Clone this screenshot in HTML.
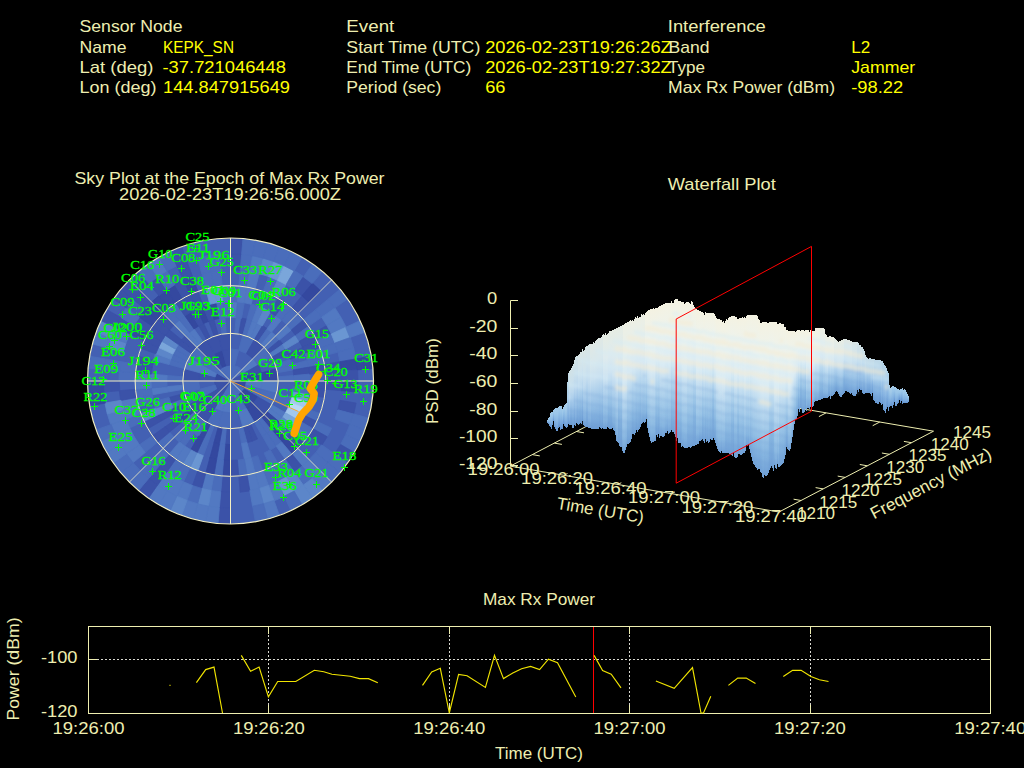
<!DOCTYPE html><html><head><meta charset="utf-8"><style>html,body{margin:0;padding:0;background:#000;overflow:hidden}svg{display:block}</style></head><body>
<svg width="1024" height="768" viewBox="0 0 1024 768">
<rect width="1024" height="768" fill="#000"/>
<text x="79.5" y="32.3" fill="#eeeeb0" font-size="17" font-family="'Liberation Sans', sans-serif" text-anchor="start" textLength="103" lengthAdjust="spacingAndGlyphs" >Sensor Node</text>
<text x="79.5" y="52.8" fill="#eeeeb0" font-size="17" font-family="'Liberation Sans', sans-serif" text-anchor="start" textLength="47" lengthAdjust="spacingAndGlyphs" >Name</text>
<text x="79.5" y="72.8" fill="#eeeeb0" font-size="17" font-family="'Liberation Sans', sans-serif" text-anchor="start" textLength="74" lengthAdjust="spacingAndGlyphs" >Lat (deg)</text>
<text x="79.5" y="92.9" fill="#eeeeb0" font-size="17" font-family="'Liberation Sans', sans-serif" text-anchor="start" textLength="77" lengthAdjust="spacingAndGlyphs" >Lon (deg)</text>
<text x="163.0" y="52.8" fill="#ffff00" font-size="17" font-family="'Liberation Sans', sans-serif" text-anchor="start" textLength="71" lengthAdjust="spacingAndGlyphs" >KEPK_SN</text>
<text x="162.5" y="72.8" fill="#ffff00" font-size="17" font-family="'Liberation Sans', sans-serif" text-anchor="start" textLength="123.5" lengthAdjust="spacingAndGlyphs" >-37.721046448</text>
<text x="163.0" y="92.9" fill="#ffff00" font-size="17" font-family="'Liberation Sans', sans-serif" text-anchor="start" textLength="127" lengthAdjust="spacingAndGlyphs" >144.847915649</text>
<text x="346.3" y="32.3" fill="#eeeeb0" font-size="17" font-family="'Liberation Sans', sans-serif" text-anchor="start" textLength="48" lengthAdjust="spacingAndGlyphs" >Event</text>
<text x="346.3" y="52.8" fill="#eeeeb0" font-size="17" font-family="'Liberation Sans', sans-serif" text-anchor="start" textLength="134" lengthAdjust="spacingAndGlyphs" >Start Time (UTC)</text>
<text x="346.3" y="72.8" fill="#eeeeb0" font-size="17" font-family="'Liberation Sans', sans-serif" text-anchor="start" textLength="125" lengthAdjust="spacingAndGlyphs" >End Time (UTC)</text>
<text x="346.3" y="92.9" fill="#eeeeb0" font-size="17" font-family="'Liberation Sans', sans-serif" text-anchor="start" textLength="95" lengthAdjust="spacingAndGlyphs" >Period (sec)</text>
<text x="485.2" y="52.8" fill="#ffff00" font-size="17" font-family="'Liberation Sans', sans-serif" text-anchor="start" textLength="186.5" lengthAdjust="spacingAndGlyphs" >2026-02-23T19:26:26Z</text>
<text x="485.2" y="72.8" fill="#ffff00" font-size="17" font-family="'Liberation Sans', sans-serif" text-anchor="start" textLength="186.5" lengthAdjust="spacingAndGlyphs" >2026-02-23T19:27:32Z</text>
<text x="485.2" y="92.9" fill="#ffff00" font-size="17" font-family="'Liberation Sans', sans-serif" text-anchor="start" textLength="20.3" lengthAdjust="spacingAndGlyphs" >66</text>
<text x="667.8" y="32.3" fill="#eeeeb0" font-size="17" font-family="'Liberation Sans', sans-serif" text-anchor="start" textLength="98" lengthAdjust="spacingAndGlyphs" >Interference</text>
<text x="668.6" y="52.8" fill="#eeeeb0" font-size="17" font-family="'Liberation Sans', sans-serif" text-anchor="start" textLength="41" lengthAdjust="spacingAndGlyphs" >Band</text>
<text x="668.0" y="72.8" fill="#eeeeb0" font-size="17" font-family="'Liberation Sans', sans-serif" text-anchor="start" textLength="37" lengthAdjust="spacingAndGlyphs" >Type</text>
<text x="668.0" y="92.9" fill="#eeeeb0" font-size="17" font-family="'Liberation Sans', sans-serif" text-anchor="start" textLength="167" lengthAdjust="spacingAndGlyphs" >Max Rx Power (dBm)</text>
<text x="851.2" y="52.8" fill="#ffff00" font-size="17" font-family="'Liberation Sans', sans-serif" text-anchor="start" textLength="19" lengthAdjust="spacingAndGlyphs" >L2</text>
<text x="851.2" y="72.8" fill="#ffff00" font-size="17" font-family="'Liberation Sans', sans-serif" text-anchor="start" textLength="64" lengthAdjust="spacingAndGlyphs" >Jammer</text>
<text x="851.2" y="92.9" fill="#ffff00" font-size="17" font-family="'Liberation Sans', sans-serif" text-anchor="start" textLength="52" lengthAdjust="spacingAndGlyphs" >-98.22</text>
<text x="229.5" y="183.8" fill="#eeeeb0" font-size="17" font-family="'Liberation Sans', sans-serif" text-anchor="middle" textLength="310" lengthAdjust="spacingAndGlyphs" >Sky Plot at the Epoch of Max Rx Power</text>
<text x="230.0" y="199.8" fill="#eeeeb0" font-size="17" font-family="'Liberation Sans', sans-serif" text-anchor="middle" textLength="222" lengthAdjust="spacingAndGlyphs" >2026-02-23T19:26:56.000Z</text>
<clipPath id="dk"><circle cx="230.5" cy="381.0" r="143.0"/></clipPath>
<g clip-path="url(#dk)">
<circle cx="230.5" cy="381.0" r="143.0" fill="#4360b3"/>
<path d="M230.5,381.0 L230.5,364.7 L238.6,366.9Z" fill="#4a6dbb" stroke="#4a6dbb" stroke-width="0.8"/>
<path d="M230.5,381.0 L238.6,366.9 L244.6,372.9Z" fill="#4a6dbb" stroke="#4a6dbb" stroke-width="0.8"/>
<path d="M230.5,381.0 L244.6,372.9 L246.8,381.0Z" fill="#3b52a8" stroke="#3b52a8" stroke-width="0.8"/>
<path d="M230.5,381.0 L246.8,381.0 L244.6,389.1Z" fill="#34489f" stroke="#34489f" stroke-width="0.8"/>
<path d="M230.5,381.0 L244.6,389.1 L238.6,395.1Z" fill="#4a6dbb" stroke="#4a6dbb" stroke-width="0.8"/>
<path d="M230.5,381.0 L238.6,395.1 L230.5,397.3Z" fill="#4a6dbb" stroke="#4a6dbb" stroke-width="0.8"/>
<path d="M230.5,381.0 L230.5,397.3 L222.4,395.1Z" fill="#4a6dbb" stroke="#4a6dbb" stroke-width="0.8"/>
<path d="M230.5,381.0 L222.4,395.1 L216.4,389.1Z" fill="#3b52a8" stroke="#3b52a8" stroke-width="0.8"/>
<path d="M230.5,381.0 L216.4,389.1 L214.2,381.0Z" fill="#3b52a8" stroke="#3b52a8" stroke-width="0.8"/>
<path d="M230.5,381.0 L214.2,381.0 L216.4,372.9Z" fill="#34489f" stroke="#34489f" stroke-width="0.8"/>
<path d="M230.5,381.0 L216.4,372.9 L222.4,366.9Z" fill="#4a6dbb" stroke="#4a6dbb" stroke-width="0.8"/>
<path d="M230.5,381.0 L222.4,366.9 L230.5,364.7Z" fill="#4a6dbb" stroke="#4a6dbb" stroke-width="0.8"/>
<path d="M230.5,365.1 L230.5,348.8 L238.8,349.9 L234.6,365.7Z" fill="#4a6dbb" stroke="#4a6dbb" stroke-width="0.8"/>
<path d="M241.7,369.8 L253.3,358.2 L258.4,364.9 L244.3,373.1Z" fill="#5279c2" stroke="#5279c2" stroke-width="0.8"/>
<path d="M244.3,373.1 L258.4,364.9 L261.6,372.7 L245.8,376.9Z" fill="#3b52a8" stroke="#3b52a8" stroke-width="0.8"/>
<path d="M245.8,376.9 L261.6,372.7 L262.7,381.0 L246.4,381.0Z" fill="#34489f" stroke="#34489f" stroke-width="0.8"/>
<path d="M246.4,381.0 L262.7,381.0 L261.6,389.3 L245.8,385.1Z" fill="#5279c2" stroke="#5279c2" stroke-width="0.8"/>
<path d="M245.8,385.1 L261.6,389.3 L258.4,397.1 L244.3,388.9Z" fill="#4a6dbb" stroke="#4a6dbb" stroke-width="0.8"/>
<path d="M244.3,388.9 L258.4,397.1 L253.3,403.8 L241.7,392.2Z" fill="#34489f" stroke="#34489f" stroke-width="0.8"/>
<path d="M241.7,392.2 L253.3,403.8 L246.6,408.9 L238.4,394.8Z" fill="#34489f" stroke="#34489f" stroke-width="0.8"/>
<path d="M238.4,394.8 L246.6,408.9 L238.8,412.1 L234.6,396.3Z" fill="#4a6dbb" stroke="#4a6dbb" stroke-width="0.8"/>
<path d="M230.5,396.9 L230.5,413.2 L222.2,412.1 L226.4,396.3Z" fill="#5279c2" stroke="#5279c2" stroke-width="0.8"/>
<path d="M226.4,396.3 L222.2,412.1 L214.4,408.9 L222.6,394.8Z" fill="#5279c2" stroke="#5279c2" stroke-width="0.8"/>
<path d="M222.6,394.8 L214.4,408.9 L207.7,403.8 L219.3,392.2Z" fill="#3b52a8" stroke="#3b52a8" stroke-width="0.8"/>
<path d="M219.3,392.2 L207.7,403.8 L202.6,397.1 L216.7,388.9Z" fill="#3b52a8" stroke="#3b52a8" stroke-width="0.8"/>
<path d="M216.7,388.9 L202.6,397.1 L199.4,389.3 L215.2,385.1Z" fill="#4a6dbb" stroke="#4a6dbb" stroke-width="0.8"/>
<path d="M214.6,381.0 L198.3,381.0 L199.4,372.7 L215.2,376.9Z" fill="#3b52a8" stroke="#3b52a8" stroke-width="0.8"/>
<path d="M215.2,376.9 L199.4,372.7 L202.6,364.9 L216.7,373.1Z" fill="#5279c2" stroke="#5279c2" stroke-width="0.8"/>
<path d="M216.7,373.1 L202.6,364.9 L207.7,358.2 L219.3,369.8Z" fill="#4a6dbb" stroke="#4a6dbb" stroke-width="0.8"/>
<path d="M219.3,369.8 L207.7,358.2 L214.4,353.1 L222.6,367.2Z" fill="#3b52a8" stroke="#3b52a8" stroke-width="0.8"/>
<path d="M222.6,367.2 L214.4,353.1 L222.2,349.9 L226.4,365.7Z" fill="#34489f" stroke="#34489f" stroke-width="0.8"/>
<path d="M226.4,365.7 L222.2,349.9 L230.5,348.8 L230.5,365.1Z" fill="#3b52a8" stroke="#3b52a8" stroke-width="0.8"/>
<path d="M238.7,350.3 L242.9,334.6 L254.5,339.4 L246.4,353.5Z" fill="#4a6dbb" stroke="#4a6dbb" stroke-width="0.8"/>
<path d="M246.4,353.5 L254.5,339.4 L264.5,347.0 L253.0,358.5Z" fill="#3b52a8" stroke="#3b52a8" stroke-width="0.8"/>
<path d="M253.0,358.5 L264.5,347.0 L272.1,357.0 L258.0,365.1Z" fill="#4a6dbb" stroke="#4a6dbb" stroke-width="0.8"/>
<path d="M261.2,372.8 L276.9,368.6 L278.6,381.0 L262.3,381.0Z" fill="#34489f" stroke="#34489f" stroke-width="0.8"/>
<path d="M262.3,381.0 L278.6,381.0 L276.9,393.4 L261.2,389.2Z" fill="#5279c2" stroke="#5279c2" stroke-width="0.8"/>
<path d="M261.2,389.2 L276.9,393.4 L272.1,405.0 L258.0,396.9Z" fill="#4a6dbb" stroke="#4a6dbb" stroke-width="0.8"/>
<path d="M258.0,396.9 L272.1,405.0 L264.5,415.0 L253.0,403.5Z" fill="#3b52a8" stroke="#3b52a8" stroke-width="0.8"/>
<path d="M253.0,403.5 L264.5,415.0 L254.5,422.6 L246.4,408.5Z" fill="#34489f" stroke="#34489f" stroke-width="0.8"/>
<path d="M246.4,408.5 L254.5,422.6 L242.9,427.4 L238.7,411.7Z" fill="#5279c2" stroke="#5279c2" stroke-width="0.8"/>
<path d="M230.5,412.8 L230.5,429.1 L218.1,427.4 L222.3,411.7Z" fill="#4a6dbb" stroke="#4a6dbb" stroke-width="0.8"/>
<path d="M222.3,411.7 L218.1,427.4 L206.5,422.6 L214.6,408.5Z" fill="#4a6dbb" stroke="#4a6dbb" stroke-width="0.8"/>
<path d="M214.6,408.5 L206.5,422.6 L196.5,415.0 L208.0,403.5Z" fill="#3b52a8" stroke="#3b52a8" stroke-width="0.8"/>
<path d="M208.0,403.5 L196.5,415.0 L188.9,405.0 L203.0,396.9Z" fill="#3b52a8" stroke="#3b52a8" stroke-width="0.8"/>
<path d="M199.8,389.2 L184.1,393.4 L182.4,381.0 L198.7,381.0Z" fill="#4a6dbb" stroke="#4a6dbb" stroke-width="0.8"/>
<path d="M198.7,381.0 L182.4,381.0 L184.1,368.6 L199.8,372.8Z" fill="#3b52a8" stroke="#3b52a8" stroke-width="0.8"/>
<path d="M199.8,372.8 L184.1,368.6 L188.9,357.0 L203.0,365.1Z" fill="#5279c2" stroke="#5279c2" stroke-width="0.8"/>
<path d="M203.0,365.1 L188.9,357.0 L196.5,347.0 L208.0,358.5Z" fill="#4a6dbb" stroke="#4a6dbb" stroke-width="0.8"/>
<path d="M208.0,358.5 L196.5,347.0 L206.5,339.4 L214.6,353.5Z" fill="#3b52a8" stroke="#3b52a8" stroke-width="0.8"/>
<path d="M214.6,353.5 L206.5,339.4 L218.1,334.6 L222.3,350.3Z" fill="#3b52a8" stroke="#3b52a8" stroke-width="0.8"/>
<path d="M222.3,350.3 L218.1,334.6 L230.5,332.9 L230.5,349.2Z" fill="#3b52a8" stroke="#3b52a8" stroke-width="0.8"/>
<path d="M234.7,333.5 L236.1,317.3 L241.6,318.0 L238.8,334.1Z" fill="#4a6dbb" stroke="#4a6dbb" stroke-width="0.8"/>
<path d="M238.8,334.1 L241.6,318.0 L247.1,319.2 L242.8,335.0Z" fill="#3b52a8" stroke="#3b52a8" stroke-width="0.8"/>
<path d="M242.8,335.0 L247.1,319.2 L252.4,320.9 L246.8,336.2Z" fill="#4a6dbb" stroke="#4a6dbb" stroke-width="0.8"/>
<path d="M246.8,336.2 L252.4,320.9 L257.5,323.0 L250.6,337.8Z" fill="#5279c2" stroke="#5279c2" stroke-width="0.8"/>
<path d="M250.6,337.8 L257.5,323.0 L262.5,325.6 L254.3,339.7Z" fill="#5279c2" stroke="#5279c2" stroke-width="0.8"/>
<path d="M254.3,339.7 L262.5,325.6 L267.2,328.6 L257.8,342.0Z" fill="#3b52a8" stroke="#3b52a8" stroke-width="0.8"/>
<path d="M257.8,342.0 L267.2,328.6 L271.6,332.0 L261.1,344.5Z" fill="#4a6dbb" stroke="#4a6dbb" stroke-width="0.8"/>
<path d="M261.1,344.5 L271.6,332.0 L275.7,335.8 L264.2,347.3Z" fill="#5279c2" stroke="#5279c2" stroke-width="0.8"/>
<path d="M264.2,347.3 L275.7,335.8 L279.5,339.9 L267.0,350.4Z" fill="#4a6dbb" stroke="#4a6dbb" stroke-width="0.8"/>
<path d="M267.0,350.4 L279.5,339.9 L282.9,344.3 L269.5,353.7Z" fill="#3b52a8" stroke="#3b52a8" stroke-width="0.8"/>
<path d="M269.5,353.7 L282.9,344.3 L285.9,349.0 L271.8,357.2Z" fill="#5279c2" stroke="#5279c2" stroke-width="0.8"/>
<path d="M271.8,357.2 L285.9,349.0 L288.5,354.0 L273.7,360.9Z" fill="#3b52a8" stroke="#3b52a8" stroke-width="0.8"/>
<path d="M275.3,364.7 L290.6,359.1 L292.3,364.4 L276.5,368.7Z" fill="#4a6dbb" stroke="#4a6dbb" stroke-width="0.8"/>
<path d="M276.5,368.7 L292.3,364.4 L293.5,369.9 L277.4,372.7Z" fill="#4a6dbb" stroke="#4a6dbb" stroke-width="0.8"/>
<path d="M278.0,376.8 L294.2,375.4 L294.5,381.0 L278.2,381.0Z" fill="#4a6dbb" stroke="#4a6dbb" stroke-width="0.8"/>
<path d="M276.5,393.3 L292.3,397.6 L290.6,402.9 L275.3,397.3Z" fill="#4a6dbb" stroke="#4a6dbb" stroke-width="0.8"/>
<path d="M275.3,397.3 L290.6,402.9 L288.5,408.0 L273.7,401.1Z" fill="#4a6dbb" stroke="#4a6dbb" stroke-width="0.8"/>
<path d="M271.8,404.8 L285.9,413.0 L282.9,417.7 L269.5,408.3Z" fill="#5279c2" stroke="#5279c2" stroke-width="0.8"/>
<path d="M269.5,408.3 L282.9,417.7 L279.5,422.1 L267.0,411.6Z" fill="#5279c2" stroke="#5279c2" stroke-width="0.8"/>
<path d="M267.0,411.6 L279.5,422.1 L275.7,426.2 L264.2,414.7Z" fill="#34489f" stroke="#34489f" stroke-width="0.8"/>
<path d="M264.2,414.7 L275.7,426.2 L271.6,430.0 L261.1,417.5Z" fill="#34489f" stroke="#34489f" stroke-width="0.8"/>
<path d="M261.1,417.5 L271.6,430.0 L267.2,433.4 L257.8,420.0Z" fill="#4a6dbb" stroke="#4a6dbb" stroke-width="0.8"/>
<path d="M257.8,420.0 L267.2,433.4 L262.5,436.4 L254.3,422.3Z" fill="#4a6dbb" stroke="#4a6dbb" stroke-width="0.8"/>
<path d="M250.6,424.2 L257.5,439.0 L252.4,441.1 L246.8,425.8Z" fill="#3b52a8" stroke="#3b52a8" stroke-width="0.8"/>
<path d="M246.8,425.8 L252.4,441.1 L247.1,442.8 L242.8,427.0Z" fill="#3b52a8" stroke="#3b52a8" stroke-width="0.8"/>
<path d="M242.8,427.0 L247.1,442.8 L241.6,444.0 L238.8,427.9Z" fill="#4a6dbb" stroke="#4a6dbb" stroke-width="0.8"/>
<path d="M230.5,428.7 L230.5,445.0 L224.9,444.7 L226.3,428.5Z" fill="#3b52a8" stroke="#3b52a8" stroke-width="0.8"/>
<path d="M226.3,428.5 L224.9,444.7 L219.4,444.0 L222.2,427.9Z" fill="#4a6dbb" stroke="#4a6dbb" stroke-width="0.8"/>
<path d="M222.2,427.9 L219.4,444.0 L213.9,442.8 L218.2,427.0Z" fill="#34489f" stroke="#34489f" stroke-width="0.8"/>
<path d="M214.2,425.8 L208.6,441.1 L203.5,439.0 L210.4,424.2Z" fill="#4a6dbb" stroke="#4a6dbb" stroke-width="0.8"/>
<path d="M210.4,424.2 L203.5,439.0 L198.5,436.4 L206.7,422.3Z" fill="#34489f" stroke="#34489f" stroke-width="0.8"/>
<path d="M206.7,422.3 L198.5,436.4 L193.8,433.4 L203.2,420.0Z" fill="#4a6dbb" stroke="#4a6dbb" stroke-width="0.8"/>
<path d="M203.2,420.0 L193.8,433.4 L189.4,430.0 L199.9,417.5Z" fill="#4a6dbb" stroke="#4a6dbb" stroke-width="0.8"/>
<path d="M196.8,414.7 L185.3,426.2 L181.5,422.1 L194.0,411.6Z" fill="#4a6dbb" stroke="#4a6dbb" stroke-width="0.8"/>
<path d="M194.0,411.6 L181.5,422.1 L178.1,417.7 L191.5,408.3Z" fill="#34489f" stroke="#34489f" stroke-width="0.8"/>
<path d="M189.2,404.8 L175.1,413.0 L172.5,408.0 L187.3,401.1Z" fill="#3b52a8" stroke="#3b52a8" stroke-width="0.8"/>
<path d="M187.3,401.1 L172.5,408.0 L170.4,402.9 L185.7,397.3Z" fill="#4a6dbb" stroke="#4a6dbb" stroke-width="0.8"/>
<path d="M185.7,397.3 L170.4,402.9 L168.7,397.6 L184.5,393.3Z" fill="#3b52a8" stroke="#3b52a8" stroke-width="0.8"/>
<path d="M183.6,389.3 L167.5,392.1 L166.8,386.6 L183.0,385.2Z" fill="#5279c2" stroke="#5279c2" stroke-width="0.8"/>
<path d="M182.8,381.0 L166.5,381.0 L166.8,375.4 L183.0,376.8Z" fill="#4a6dbb" stroke="#4a6dbb" stroke-width="0.8"/>
<path d="M184.5,368.7 L168.7,364.4 L170.4,359.1 L185.7,364.7Z" fill="#4a6dbb" stroke="#4a6dbb" stroke-width="0.8"/>
<path d="M185.7,364.7 L170.4,359.1 L172.5,354.0 L187.3,360.9Z" fill="#4a6dbb" stroke="#4a6dbb" stroke-width="0.8"/>
<path d="M187.3,360.9 L172.5,354.0 L175.1,349.0 L189.2,357.2Z" fill="#4a6dbb" stroke="#4a6dbb" stroke-width="0.8"/>
<path d="M189.2,357.2 L175.1,349.0 L178.1,344.3 L191.5,353.7Z" fill="#4a6dbb" stroke="#4a6dbb" stroke-width="0.8"/>
<path d="M191.5,353.7 L178.1,344.3 L181.5,339.9 L194.0,350.4Z" fill="#3b52a8" stroke="#3b52a8" stroke-width="0.8"/>
<path d="M194.0,350.4 L181.5,339.9 L185.3,335.8 L196.8,347.3Z" fill="#3b52a8" stroke="#3b52a8" stroke-width="0.8"/>
<path d="M196.8,347.3 L185.3,335.8 L189.4,332.0 L199.9,344.5Z" fill="#5279c2" stroke="#5279c2" stroke-width="0.8"/>
<path d="M199.9,344.5 L189.4,332.0 L193.8,328.6 L203.2,342.0Z" fill="#5279c2" stroke="#5279c2" stroke-width="0.8"/>
<path d="M206.7,339.7 L198.5,325.6 L203.5,323.0 L210.4,337.8Z" fill="#3b52a8" stroke="#3b52a8" stroke-width="0.8"/>
<path d="M214.2,336.2 L208.6,320.9 L213.9,319.2 L218.2,335.0Z" fill="#3b52a8" stroke="#3b52a8" stroke-width="0.8"/>
<path d="M222.2,334.1 L219.4,318.0 L224.9,317.3 L226.3,333.5Z" fill="#4a6dbb" stroke="#4a6dbb" stroke-width="0.8"/>
<path d="M230.5,317.4 L230.5,301.2 L237.5,301.5 L236.0,317.7Z" fill="#5279c2" stroke="#5279c2" stroke-width="0.8"/>
<path d="M236.0,317.7 L237.5,301.5 L244.4,302.4 L241.5,318.4Z" fill="#4a6dbb" stroke="#4a6dbb" stroke-width="0.8"/>
<path d="M246.9,319.6 L251.2,303.9 L257.8,306.0 L252.2,321.3Z" fill="#4a6dbb" stroke="#4a6dbb" stroke-width="0.8"/>
<path d="M252.2,321.3 L257.8,306.0 L264.2,308.6 L257.4,323.4Z" fill="#5279c2" stroke="#5279c2" stroke-width="0.8"/>
<path d="M257.4,323.4 L264.2,308.6 L270.4,311.9 L262.3,326.0Z" fill="#5c86c9" stroke="#5c86c9" stroke-width="0.8"/>
<path d="M267.0,328.9 L276.3,315.6 L281.8,319.8 L271.4,332.3Z" fill="#5279c2" stroke="#5279c2" stroke-width="0.8"/>
<path d="M275.4,336.1 L287.0,324.5 L291.7,329.7 L279.2,340.1Z" fill="#5279c2" stroke="#5279c2" stroke-width="0.8"/>
<path d="M282.6,344.5 L295.9,335.2 L299.6,341.1 L285.5,349.2Z" fill="#5c86c9" stroke="#5c86c9" stroke-width="0.8"/>
<path d="M288.1,354.1 L302.9,347.3 L305.5,353.7 L290.2,359.3Z" fill="#3b52a8" stroke="#3b52a8" stroke-width="0.8"/>
<path d="M291.9,364.6 L307.6,360.3 L309.1,367.1 L293.1,370.0Z" fill="#4a6dbb" stroke="#4a6dbb" stroke-width="0.8"/>
<path d="M293.1,370.0 L309.1,367.1 L310.0,374.0 L293.8,375.5Z" fill="#3b52a8" stroke="#3b52a8" stroke-width="0.8"/>
<path d="M293.8,375.5 L310.0,374.0 L310.3,381.0 L294.1,381.0Z" fill="#4a6dbb" stroke="#4a6dbb" stroke-width="0.8"/>
<path d="M293.8,386.5 L310.0,388.0 L309.1,394.9 L293.1,392.0Z" fill="#4a6dbb" stroke="#4a6dbb" stroke-width="0.8"/>
<path d="M293.1,392.0 L309.1,394.9 L307.6,401.7 L291.9,397.4Z" fill="#6a96d2" stroke="#6a96d2" stroke-width="0.8"/>
<path d="M291.9,397.4 L307.6,401.7 L305.5,408.3 L290.2,402.7Z" fill="#a2c8ec" stroke="#a2c8ec" stroke-width="0.8"/>
<path d="M290.2,402.7 L305.5,408.3 L302.9,414.7 L288.1,407.9Z" fill="#b8daf4" stroke="#b8daf4" stroke-width="0.8"/>
<path d="M288.1,407.9 L302.9,414.7 L299.6,420.9 L285.5,412.8Z" fill="#a2c8ec" stroke="#a2c8ec" stroke-width="0.8"/>
<path d="M285.5,412.8 L299.6,420.9 L295.9,426.8 L282.6,417.5Z" fill="#7aa6da" stroke="#7aa6da" stroke-width="0.8"/>
<path d="M282.6,417.5 L295.9,426.8 L291.7,432.3 L279.2,421.9Z" fill="#5c86c9" stroke="#5c86c9" stroke-width="0.8"/>
<path d="M275.4,425.9 L287.0,437.5 L281.8,442.2 L271.4,429.7Z" fill="#34489f" stroke="#34489f" stroke-width="0.8"/>
<path d="M271.4,429.7 L281.8,442.2 L276.3,446.4 L267.0,433.1Z" fill="#4a6dbb" stroke="#4a6dbb" stroke-width="0.8"/>
<path d="M267.0,433.1 L276.3,446.4 L270.4,450.1 L262.3,436.0Z" fill="#4a6dbb" stroke="#4a6dbb" stroke-width="0.8"/>
<path d="M246.9,442.4 L251.2,458.1 L244.4,459.6 L241.5,443.6Z" fill="#5279c2" stroke="#5279c2" stroke-width="0.8"/>
<path d="M230.5,444.6 L230.5,460.8 L223.5,460.5 L225.0,444.3Z" fill="#34489f" stroke="#34489f" stroke-width="0.8"/>
<path d="M225.0,444.3 L223.5,460.5 L216.6,459.6 L219.5,443.6Z" fill="#4a6dbb" stroke="#4a6dbb" stroke-width="0.8"/>
<path d="M219.5,443.6 L216.6,459.6 L209.8,458.1 L214.1,442.4Z" fill="#34489f" stroke="#34489f" stroke-width="0.8"/>
<path d="M208.8,440.7 L203.2,456.0 L196.8,453.4 L203.6,438.6Z" fill="#4a6dbb" stroke="#4a6dbb" stroke-width="0.8"/>
<path d="M203.6,438.6 L196.8,453.4 L190.6,450.1 L198.7,436.0Z" fill="#34489f" stroke="#34489f" stroke-width="0.8"/>
<path d="M194.0,433.1 L184.7,446.4 L179.2,442.2 L189.6,429.7Z" fill="#4a6dbb" stroke="#4a6dbb" stroke-width="0.8"/>
<path d="M189.6,429.7 L179.2,442.2 L174.0,437.5 L185.6,425.9Z" fill="#4a6dbb" stroke="#4a6dbb" stroke-width="0.8"/>
<path d="M181.8,421.9 L169.3,432.3 L165.1,426.8 L178.4,417.5Z" fill="#3b52a8" stroke="#3b52a8" stroke-width="0.8"/>
<path d="M175.5,412.8 L161.4,420.9 L158.1,414.7 L172.9,407.9Z" fill="#3b52a8" stroke="#3b52a8" stroke-width="0.8"/>
<path d="M172.9,407.9 L158.1,414.7 L155.5,408.3 L170.8,402.7Z" fill="#5c86c9" stroke="#5c86c9" stroke-width="0.8"/>
<path d="M170.8,402.7 L155.5,408.3 L153.4,401.7 L169.1,397.4Z" fill="#4a6dbb" stroke="#4a6dbb" stroke-width="0.8"/>
<path d="M167.9,392.0 L151.9,394.9 L151.0,388.0 L167.2,386.5Z" fill="#5279c2" stroke="#5279c2" stroke-width="0.8"/>
<path d="M167.2,386.5 L151.0,388.0 L150.7,381.0 L166.9,381.0Z" fill="#4a6dbb" stroke="#4a6dbb" stroke-width="0.8"/>
<path d="M166.9,381.0 L150.7,381.0 L151.0,374.0 L167.2,375.5Z" fill="#5279c2" stroke="#5279c2" stroke-width="0.8"/>
<path d="M169.1,364.6 L153.4,360.3 L155.5,353.7 L170.8,359.3Z" fill="#5279c2" stroke="#5279c2" stroke-width="0.8"/>
<path d="M170.8,359.3 L155.5,353.7 L158.1,347.3 L172.9,354.1Z" fill="#5c86c9" stroke="#5c86c9" stroke-width="0.8"/>
<path d="M172.9,354.1 L158.1,347.3 L161.4,341.1 L175.5,349.2Z" fill="#7aa6da" stroke="#7aa6da" stroke-width="0.8"/>
<path d="M175.5,349.2 L161.4,341.1 L165.1,335.2 L178.4,344.5Z" fill="#5c86c9" stroke="#5c86c9" stroke-width="0.8"/>
<path d="M178.4,344.5 L165.1,335.2 L169.3,329.7 L181.8,340.1Z" fill="#3b52a8" stroke="#3b52a8" stroke-width="0.8"/>
<path d="M185.6,336.1 L174.0,324.5 L179.2,319.8 L189.6,332.3Z" fill="#5279c2" stroke="#5279c2" stroke-width="0.8"/>
<path d="M189.6,332.3 L179.2,319.8 L184.7,315.6 L194.0,328.9Z" fill="#4a6dbb" stroke="#4a6dbb" stroke-width="0.8"/>
<path d="M194.0,328.9 L184.7,315.6 L190.6,311.9 L198.7,326.0Z" fill="#34489f" stroke="#34489f" stroke-width="0.8"/>
<path d="M198.7,326.0 L190.6,311.9 L196.8,308.6 L203.6,323.4Z" fill="#3b52a8" stroke="#3b52a8" stroke-width="0.8"/>
<path d="M203.6,323.4 L196.8,308.6 L203.2,306.0 L208.8,321.3Z" fill="#34489f" stroke="#34489f" stroke-width="0.8"/>
<path d="M208.8,321.3 L203.2,306.0 L209.8,303.9 L214.1,319.6Z" fill="#3b52a8" stroke="#3b52a8" stroke-width="0.8"/>
<path d="M214.1,319.6 L209.8,303.9 L216.6,302.4 L219.5,318.4Z" fill="#34489f" stroke="#34489f" stroke-width="0.8"/>
<path d="M219.5,318.4 L216.6,302.4 L223.5,301.5 L225.0,317.7Z" fill="#4a6dbb" stroke="#4a6dbb" stroke-width="0.8"/>
<path d="M225.0,317.7 L223.5,301.5 L230.5,301.2 L230.5,317.4Z" fill="#4a6dbb" stroke="#4a6dbb" stroke-width="0.8"/>
<path d="M230.5,301.6 L230.5,285.3 L238.8,285.6 L237.4,301.9Z" fill="#4a6dbb" stroke="#4a6dbb" stroke-width="0.8"/>
<path d="M237.4,301.9 L238.8,285.6 L247.1,286.7 L244.3,302.8Z" fill="#5279c2" stroke="#5279c2" stroke-width="0.8"/>
<path d="M244.3,302.8 L247.1,286.7 L255.3,288.5 L251.1,304.3Z" fill="#5279c2" stroke="#5279c2" stroke-width="0.8"/>
<path d="M270.2,312.2 L278.4,298.1 L285.4,302.6 L276.1,315.9Z" fill="#3b52a8" stroke="#3b52a8" stroke-width="0.8"/>
<path d="M276.1,315.9 L285.4,302.6 L292.0,307.7 L281.6,320.1Z" fill="#4a6dbb" stroke="#4a6dbb" stroke-width="0.8"/>
<path d="M281.6,320.1 L292.0,307.7 L298.2,313.3 L286.7,324.8Z" fill="#4a6dbb" stroke="#4a6dbb" stroke-width="0.8"/>
<path d="M286.7,324.8 L298.2,313.3 L303.8,319.5 L291.4,329.9Z" fill="#4a6dbb" stroke="#4a6dbb" stroke-width="0.8"/>
<path d="M291.4,329.9 L303.8,319.5 L308.9,326.1 L295.6,335.4Z" fill="#3b52a8" stroke="#3b52a8" stroke-width="0.8"/>
<path d="M295.6,335.4 L308.9,326.1 L313.4,333.1 L299.3,341.3Z" fill="#4a6dbb" stroke="#4a6dbb" stroke-width="0.8"/>
<path d="M299.3,341.3 L313.4,333.1 L317.3,340.5 L302.5,347.4Z" fill="#3b52a8" stroke="#3b52a8" stroke-width="0.8"/>
<path d="M302.5,347.4 L317.3,340.5 L320.5,348.3 L305.2,353.8Z" fill="#3b52a8" stroke="#3b52a8" stroke-width="0.8"/>
<path d="M305.2,353.8 L320.5,348.3 L323.0,356.2 L307.2,360.4Z" fill="#4a6dbb" stroke="#4a6dbb" stroke-width="0.8"/>
<path d="M307.2,360.4 L323.0,356.2 L324.8,364.4 L308.7,367.2Z" fill="#4a6dbb" stroke="#4a6dbb" stroke-width="0.8"/>
<path d="M308.7,367.2 L324.8,364.4 L325.9,372.7 L309.6,374.1Z" fill="#3b52a8" stroke="#3b52a8" stroke-width="0.8"/>
<path d="M309.9,381.0 L326.2,381.0 L325.9,389.3 L309.6,387.9Z" fill="#3b52a8" stroke="#3b52a8" stroke-width="0.8"/>
<path d="M309.6,387.9 L325.9,389.3 L324.8,397.6 L308.7,394.8Z" fill="#3b52a8" stroke="#3b52a8" stroke-width="0.8"/>
<path d="M305.2,408.2 L320.5,413.7 L317.3,421.5 L302.5,414.6Z" fill="#4a6dbb" stroke="#4a6dbb" stroke-width="0.8"/>
<path d="M302.5,414.6 L317.3,421.5 L313.4,428.9 L299.3,420.7Z" fill="#3b52a8" stroke="#3b52a8" stroke-width="0.8"/>
<path d="M299.3,420.7 L313.4,428.9 L308.9,435.9 L295.6,426.6Z" fill="#4a6dbb" stroke="#4a6dbb" stroke-width="0.8"/>
<path d="M295.6,426.6 L308.9,435.9 L303.8,442.5 L291.4,432.1Z" fill="#5279c2" stroke="#5279c2" stroke-width="0.8"/>
<path d="M291.4,432.1 L303.8,442.5 L298.2,448.7 L286.7,437.2Z" fill="#3b52a8" stroke="#3b52a8" stroke-width="0.8"/>
<path d="M286.7,437.2 L298.2,448.7 L292.0,454.3 L281.6,441.9Z" fill="#34489f" stroke="#34489f" stroke-width="0.8"/>
<path d="M281.6,441.9 L292.0,454.3 L285.4,459.4 L276.1,446.1Z" fill="#5279c2" stroke="#5279c2" stroke-width="0.8"/>
<path d="M270.2,449.8 L278.4,463.9 L271.0,467.8 L264.1,453.0Z" fill="#4a6dbb" stroke="#4a6dbb" stroke-width="0.8"/>
<path d="M257.7,455.7 L263.2,471.0 L255.3,473.5 L251.1,457.7Z" fill="#4a6dbb" stroke="#4a6dbb" stroke-width="0.8"/>
<path d="M251.1,457.7 L255.3,473.5 L247.1,475.3 L244.3,459.2Z" fill="#5279c2" stroke="#5279c2" stroke-width="0.8"/>
<path d="M244.3,459.2 L247.1,475.3 L238.8,476.4 L237.4,460.1Z" fill="#4a6dbb" stroke="#4a6dbb" stroke-width="0.8"/>
<path d="M237.4,460.1 L238.8,476.4 L230.5,476.7 L230.5,460.4Z" fill="#3b52a8" stroke="#3b52a8" stroke-width="0.8"/>
<path d="M230.5,460.4 L230.5,476.7 L222.2,476.4 L223.6,460.1Z" fill="#34489f" stroke="#34489f" stroke-width="0.8"/>
<path d="M223.6,460.1 L222.2,476.4 L213.9,475.3 L216.7,459.2Z" fill="#4a6dbb" stroke="#4a6dbb" stroke-width="0.8"/>
<path d="M216.7,459.2 L213.9,475.3 L205.7,473.5 L209.9,457.7Z" fill="#34489f" stroke="#34489f" stroke-width="0.8"/>
<path d="M203.3,455.7 L197.8,471.0 L190.0,467.8 L196.9,453.0Z" fill="#6a96d2" stroke="#6a96d2" stroke-width="0.8"/>
<path d="M196.9,453.0 L190.0,467.8 L182.6,463.9 L190.8,449.8Z" fill="#5c86c9" stroke="#5c86c9" stroke-width="0.8"/>
<path d="M190.8,449.8 L182.6,463.9 L175.6,459.4 L184.9,446.1Z" fill="#5279c2" stroke="#5279c2" stroke-width="0.8"/>
<path d="M184.9,446.1 L175.6,459.4 L169.0,454.3 L179.4,441.9Z" fill="#5279c2" stroke="#5279c2" stroke-width="0.8"/>
<path d="M174.3,437.2 L162.8,448.7 L157.2,442.5 L169.6,432.1Z" fill="#4a6dbb" stroke="#4a6dbb" stroke-width="0.8"/>
<path d="M169.6,432.1 L157.2,442.5 L152.1,435.9 L165.4,426.6Z" fill="#3b52a8" stroke="#3b52a8" stroke-width="0.8"/>
<path d="M161.7,420.7 L147.6,428.9 L143.7,421.5 L158.5,414.6Z" fill="#3b52a8" stroke="#3b52a8" stroke-width="0.8"/>
<path d="M158.5,414.6 L143.7,421.5 L140.5,413.7 L155.8,408.2Z" fill="#5c86c9" stroke="#5c86c9" stroke-width="0.8"/>
<path d="M153.8,401.6 L138.0,405.8 L136.2,397.6 L152.3,394.8Z" fill="#4a6dbb" stroke="#4a6dbb" stroke-width="0.8"/>
<path d="M152.3,394.8 L136.2,397.6 L135.1,389.3 L151.4,387.9Z" fill="#4a6dbb" stroke="#4a6dbb" stroke-width="0.8"/>
<path d="M151.4,387.9 L135.1,389.3 L134.8,381.0 L151.1,381.0Z" fill="#5279c2" stroke="#5279c2" stroke-width="0.8"/>
<path d="M151.1,381.0 L134.8,381.0 L135.1,372.7 L151.4,374.1Z" fill="#5279c2" stroke="#5279c2" stroke-width="0.8"/>
<path d="M151.4,374.1 L135.1,372.7 L136.2,364.4 L152.3,367.2Z" fill="#3b52a8" stroke="#3b52a8" stroke-width="0.8"/>
<path d="M152.3,367.2 L136.2,364.4 L138.0,356.2 L153.8,360.4Z" fill="#3b52a8" stroke="#3b52a8" stroke-width="0.8"/>
<path d="M155.8,353.8 L140.5,348.3 L143.7,340.5 L158.5,347.4Z" fill="#3b52a8" stroke="#3b52a8" stroke-width="0.8"/>
<path d="M158.5,347.4 L143.7,340.5 L147.6,333.1 L161.7,341.3Z" fill="#3b52a8" stroke="#3b52a8" stroke-width="0.8"/>
<path d="M161.7,341.3 L147.6,333.1 L152.1,326.1 L165.4,335.4Z" fill="#3b52a8" stroke="#3b52a8" stroke-width="0.8"/>
<path d="M165.4,335.4 L152.1,326.1 L157.2,319.5 L169.6,329.9Z" fill="#3b52a8" stroke="#3b52a8" stroke-width="0.8"/>
<path d="M169.6,329.9 L157.2,319.5 L162.8,313.3 L174.3,324.8Z" fill="#3b52a8" stroke="#3b52a8" stroke-width="0.8"/>
<path d="M174.3,324.8 L162.8,313.3 L169.0,307.7 L179.4,320.1Z" fill="#4a6dbb" stroke="#4a6dbb" stroke-width="0.8"/>
<path d="M179.4,320.1 L169.0,307.7 L175.6,302.6 L184.9,315.9Z" fill="#4a6dbb" stroke="#4a6dbb" stroke-width="0.8"/>
<path d="M184.9,315.9 L175.6,302.6 L182.6,298.1 L190.8,312.2Z" fill="#3b52a8" stroke="#3b52a8" stroke-width="0.8"/>
<path d="M190.8,312.2 L182.6,298.1 L190.0,294.2 L196.9,309.0Z" fill="#3b52a8" stroke="#3b52a8" stroke-width="0.8"/>
<path d="M196.9,309.0 L190.0,294.2 L197.8,291.0 L203.3,306.3Z" fill="#3b52a8" stroke="#3b52a8" stroke-width="0.8"/>
<path d="M209.9,304.3 L205.7,288.5 L213.9,286.7 L216.7,302.8Z" fill="#6a96d2" stroke="#6a96d2" stroke-width="0.8"/>
<path d="M216.7,302.8 L213.9,286.7 L222.2,285.6 L223.6,301.9Z" fill="#6a96d2" stroke="#6a96d2" stroke-width="0.8"/>
<path d="M223.6,301.9 L222.2,285.6 L230.5,285.3 L230.5,301.6Z" fill="#5279c2" stroke="#5279c2" stroke-width="0.8"/>
<path d="M238.8,286.0 L240.2,269.8 L249.9,271.1 L247.1,287.1Z" fill="#4a6dbb" stroke="#4a6dbb" stroke-width="0.8"/>
<path d="M247.1,287.1 L249.9,271.1 L259.4,273.2 L255.2,288.9Z" fill="#5279c2" stroke="#5279c2" stroke-width="0.8"/>
<path d="M263.1,291.4 L268.7,276.1 L277.7,279.8 L270.8,294.6Z" fill="#4a6dbb" stroke="#4a6dbb" stroke-width="0.8"/>
<path d="M270.8,294.6 L277.7,279.8 L286.3,284.3 L278.2,298.4Z" fill="#5c86c9" stroke="#5c86c9" stroke-width="0.8"/>
<path d="M291.8,308.0 L302.2,295.5 L309.4,302.1 L297.9,313.6Z" fill="#3b52a8" stroke="#3b52a8" stroke-width="0.8"/>
<path d="M303.5,319.7 L316.0,309.3 L321.9,317.0 L308.6,326.3Z" fill="#4a6dbb" stroke="#4a6dbb" stroke-width="0.8"/>
<path d="M313.1,333.3 L327.2,325.2 L331.7,333.8 L316.9,340.7Z" fill="#3b52a8" stroke="#3b52a8" stroke-width="0.8"/>
<path d="M316.9,340.7 L331.7,333.8 L335.4,342.8 L320.1,348.4Z" fill="#4a6dbb" stroke="#4a6dbb" stroke-width="0.8"/>
<path d="M320.1,348.4 L335.4,342.8 L338.3,352.1 L322.6,356.3Z" fill="#4a6dbb" stroke="#4a6dbb" stroke-width="0.8"/>
<path d="M324.4,364.4 L340.4,361.6 L341.7,371.3 L325.5,372.7Z" fill="#3b52a8" stroke="#3b52a8" stroke-width="0.8"/>
<path d="M325.5,372.7 L341.7,371.3 L342.1,381.0 L325.8,381.0Z" fill="#3b52a8" stroke="#3b52a8" stroke-width="0.8"/>
<path d="M325.8,381.0 L342.1,381.0 L341.7,390.7 L325.5,389.3Z" fill="#3b52a8" stroke="#3b52a8" stroke-width="0.8"/>
<path d="M316.9,421.3 L331.7,428.2 L327.2,436.8 L313.1,428.7Z" fill="#4a6dbb" stroke="#4a6dbb" stroke-width="0.8"/>
<path d="M313.1,428.7 L327.2,436.8 L321.9,445.0 L308.6,435.7Z" fill="#3b52a8" stroke="#3b52a8" stroke-width="0.8"/>
<path d="M297.9,448.4 L309.4,459.9 L302.2,466.5 L291.8,454.0Z" fill="#5279c2" stroke="#5279c2" stroke-width="0.8"/>
<path d="M291.8,454.0 L302.2,466.5 L294.5,472.4 L285.2,459.1Z" fill="#3b52a8" stroke="#3b52a8" stroke-width="0.8"/>
<path d="M285.2,459.1 L294.5,472.4 L286.3,477.7 L278.2,463.6Z" fill="#4a6dbb" stroke="#4a6dbb" stroke-width="0.8"/>
<path d="M278.2,463.6 L286.3,477.7 L277.7,482.2 L270.8,467.4Z" fill="#4a6dbb" stroke="#4a6dbb" stroke-width="0.8"/>
<path d="M270.8,467.4 L277.7,482.2 L268.7,485.9 L263.1,470.6Z" fill="#4a6dbb" stroke="#4a6dbb" stroke-width="0.8"/>
<path d="M263.1,470.6 L268.7,485.9 L259.4,488.8 L255.2,473.1Z" fill="#5279c2" stroke="#5279c2" stroke-width="0.8"/>
<path d="M255.2,473.1 L259.4,488.8 L249.9,490.9 L247.1,474.9Z" fill="#5279c2" stroke="#5279c2" stroke-width="0.8"/>
<path d="M247.1,474.9 L249.9,490.9 L240.2,492.2 L238.8,476.0Z" fill="#3b52a8" stroke="#3b52a8" stroke-width="0.8"/>
<path d="M230.5,476.3 L230.5,492.6 L220.8,492.2 L222.2,476.0Z" fill="#3b52a8" stroke="#3b52a8" stroke-width="0.8"/>
<path d="M222.2,476.0 L220.8,492.2 L211.1,490.9 L213.9,474.9Z" fill="#4a6dbb" stroke="#4a6dbb" stroke-width="0.8"/>
<path d="M213.9,474.9 L211.1,490.9 L201.6,488.8 L205.8,473.1Z" fill="#5279c2" stroke="#5279c2" stroke-width="0.8"/>
<path d="M205.8,473.1 L201.6,488.8 L192.3,485.9 L197.9,470.6Z" fill="#3b52a8" stroke="#3b52a8" stroke-width="0.8"/>
<path d="M190.2,467.4 L183.3,482.2 L174.7,477.7 L182.8,463.6Z" fill="#4a6dbb" stroke="#4a6dbb" stroke-width="0.8"/>
<path d="M182.8,463.6 L174.7,477.7 L166.5,472.4 L175.8,459.1Z" fill="#4a6dbb" stroke="#4a6dbb" stroke-width="0.8"/>
<path d="M175.8,459.1 L166.5,472.4 L158.8,466.5 L169.2,454.0Z" fill="#3b52a8" stroke="#3b52a8" stroke-width="0.8"/>
<path d="M169.2,454.0 L158.8,466.5 L151.6,459.9 L163.1,448.4Z" fill="#4a6dbb" stroke="#4a6dbb" stroke-width="0.8"/>
<path d="M157.5,442.3 L145.0,452.7 L139.1,445.0 L152.4,435.7Z" fill="#4a6dbb" stroke="#4a6dbb" stroke-width="0.8"/>
<path d="M144.1,421.3 L129.3,428.2 L125.6,419.2 L140.9,413.6Z" fill="#4a6dbb" stroke="#4a6dbb" stroke-width="0.8"/>
<path d="M140.9,413.6 L125.6,419.2 L122.7,409.9 L138.4,405.7Z" fill="#5279c2" stroke="#5279c2" stroke-width="0.8"/>
<path d="M138.4,405.7 L122.7,409.9 L120.6,400.4 L136.6,397.6Z" fill="#5279c2" stroke="#5279c2" stroke-width="0.8"/>
<path d="M136.6,397.6 L120.6,400.4 L119.3,390.7 L135.5,389.3Z" fill="#3b52a8" stroke="#3b52a8" stroke-width="0.8"/>
<path d="M135.2,381.0 L118.9,381.0 L119.3,371.3 L135.5,372.7Z" fill="#4a6dbb" stroke="#4a6dbb" stroke-width="0.8"/>
<path d="M135.5,372.7 L119.3,371.3 L120.6,361.6 L136.6,364.4Z" fill="#4a6dbb" stroke="#4a6dbb" stroke-width="0.8"/>
<path d="M144.1,340.7 L129.3,333.8 L133.8,325.2 L147.9,333.3Z" fill="#34489f" stroke="#34489f" stroke-width="0.8"/>
<path d="M147.9,333.3 L133.8,325.2 L139.1,317.0 L152.4,326.3Z" fill="#3b52a8" stroke="#3b52a8" stroke-width="0.8"/>
<path d="M152.4,326.3 L139.1,317.0 L145.0,309.3 L157.5,319.7Z" fill="#34489f" stroke="#34489f" stroke-width="0.8"/>
<path d="M157.5,319.7 L145.0,309.3 L151.6,302.1 L163.1,313.6Z" fill="#34489f" stroke="#34489f" stroke-width="0.8"/>
<path d="M163.1,313.6 L151.6,302.1 L158.8,295.5 L169.2,308.0Z" fill="#34489f" stroke="#34489f" stroke-width="0.8"/>
<path d="M169.2,308.0 L158.8,295.5 L166.5,289.6 L175.8,302.9Z" fill="#34489f" stroke="#34489f" stroke-width="0.8"/>
<path d="M175.8,302.9 L166.5,289.6 L174.7,284.3 L182.8,298.4Z" fill="#34489f" stroke="#34489f" stroke-width="0.8"/>
<path d="M182.8,298.4 L174.7,284.3 L183.3,279.8 L190.2,294.6Z" fill="#3b52a8" stroke="#3b52a8" stroke-width="0.8"/>
<path d="M190.2,294.6 L183.3,279.8 L192.3,276.1 L197.9,291.4Z" fill="#34489f" stroke="#34489f" stroke-width="0.8"/>
<path d="M205.8,288.9 L201.6,273.2 L211.1,271.1 L213.9,287.1Z" fill="#4a6dbb" stroke="#4a6dbb" stroke-width="0.8"/>
<path d="M213.9,287.1 L211.1,271.1 L220.8,269.8 L222.2,286.0Z" fill="#4a6dbb" stroke="#4a6dbb" stroke-width="0.8"/>
<path d="M230.5,269.8 L230.5,253.5 L241.6,254.0 L240.2,270.2Z" fill="#3b52a8" stroke="#3b52a8" stroke-width="0.8"/>
<path d="M240.2,270.2 L241.6,254.0 L252.6,255.4 L249.8,271.5Z" fill="#4a6dbb" stroke="#4a6dbb" stroke-width="0.8"/>
<path d="M249.8,271.5 L252.6,255.4 L263.5,257.8 L259.3,273.6Z" fill="#5279c2" stroke="#5279c2" stroke-width="0.8"/>
<path d="M259.3,273.6 L263.5,257.8 L274.1,261.2 L268.5,276.5Z" fill="#5c86c9" stroke="#5c86c9" stroke-width="0.8"/>
<path d="M268.5,276.5 L274.1,261.2 L284.4,265.4 L277.5,280.2Z" fill="#6a96d2" stroke="#6a96d2" stroke-width="0.8"/>
<path d="M277.5,280.2 L284.4,265.4 L294.3,270.6 L286.1,284.7Z" fill="#7aa6da" stroke="#7aa6da" stroke-width="0.8"/>
<path d="M286.1,284.7 L294.3,270.6 L303.6,276.5 L294.3,289.9Z" fill="#4a6dbb" stroke="#4a6dbb" stroke-width="0.8"/>
<path d="M294.3,289.9 L303.6,276.5 L312.5,283.3 L302.0,295.8Z" fill="#3b52a8" stroke="#3b52a8" stroke-width="0.8"/>
<path d="M302.0,295.8 L312.5,283.3 L320.7,290.8 L309.1,302.4Z" fill="#34489f" stroke="#34489f" stroke-width="0.8"/>
<path d="M315.7,309.5 L328.2,299.0 L335.0,307.9 L321.6,317.2Z" fill="#4a6dbb" stroke="#4a6dbb" stroke-width="0.8"/>
<path d="M321.6,317.2 L335.0,307.9 L340.9,317.2 L326.8,325.4Z" fill="#5279c2" stroke="#5279c2" stroke-width="0.8"/>
<path d="M326.8,325.4 L340.9,317.2 L346.1,327.1 L331.3,334.0Z" fill="#5279c2" stroke="#5279c2" stroke-width="0.8"/>
<path d="M331.3,334.0 L346.1,327.1 L350.3,337.4 L335.0,343.0Z" fill="#6a96d2" stroke="#6a96d2" stroke-width="0.8"/>
<path d="M335.0,343.0 L350.3,337.4 L353.7,348.0 L337.9,352.2Z" fill="#4a6dbb" stroke="#4a6dbb" stroke-width="0.8"/>
<path d="M337.9,352.2 L353.7,348.0 L356.1,358.9 L340.0,361.7Z" fill="#4a6dbb" stroke="#4a6dbb" stroke-width="0.8"/>
<path d="M340.0,361.7 L356.1,358.9 L357.5,369.9 L341.3,371.3Z" fill="#34489f" stroke="#34489f" stroke-width="0.8"/>
<path d="M341.3,371.3 L357.5,369.9 L358.0,381.0 L341.7,381.0Z" fill="#3b52a8" stroke="#3b52a8" stroke-width="0.8"/>
<path d="M341.7,381.0 L358.0,381.0 L357.5,392.1 L341.3,390.7Z" fill="#34489f" stroke="#34489f" stroke-width="0.8"/>
<path d="M340.0,400.3 L356.1,403.1 L353.7,414.0 L337.9,409.8Z" fill="#3b52a8" stroke="#3b52a8" stroke-width="0.8"/>
<path d="M337.9,409.8 L353.7,414.0 L350.3,424.6 L335.0,419.0Z" fill="#4a6dbb" stroke="#4a6dbb" stroke-width="0.8"/>
<path d="M321.6,444.8 L335.0,454.1 L328.2,463.0 L315.7,452.5Z" fill="#4a6dbb" stroke="#4a6dbb" stroke-width="0.8"/>
<path d="M315.7,452.5 L328.2,463.0 L320.7,471.2 L309.1,459.6Z" fill="#4a6dbb" stroke="#4a6dbb" stroke-width="0.8"/>
<path d="M309.1,459.6 L320.7,471.2 L312.5,478.7 L302.0,466.2Z" fill="#5279c2" stroke="#5279c2" stroke-width="0.8"/>
<path d="M302.0,466.2 L312.5,478.7 L303.6,485.5 L294.3,472.1Z" fill="#4a6dbb" stroke="#4a6dbb" stroke-width="0.8"/>
<path d="M294.3,472.1 L303.6,485.5 L294.3,491.4 L286.1,477.3Z" fill="#5c86c9" stroke="#5c86c9" stroke-width="0.8"/>
<path d="M286.1,477.3 L294.3,491.4 L284.4,496.6 L277.5,481.8Z" fill="#6a96d2" stroke="#6a96d2" stroke-width="0.8"/>
<path d="M277.5,481.8 L284.4,496.6 L274.1,500.8 L268.5,485.5Z" fill="#5279c2" stroke="#5279c2" stroke-width="0.8"/>
<path d="M268.5,485.5 L274.1,500.8 L263.5,504.2 L259.3,488.4Z" fill="#5c86c9" stroke="#5c86c9" stroke-width="0.8"/>
<path d="M259.3,488.4 L263.5,504.2 L252.6,506.6 L249.8,490.5Z" fill="#5279c2" stroke="#5279c2" stroke-width="0.8"/>
<path d="M230.5,492.2 L230.5,508.5 L219.4,508.0 L220.8,491.8Z" fill="#3b52a8" stroke="#3b52a8" stroke-width="0.8"/>
<path d="M220.8,491.8 L219.4,508.0 L208.4,506.6 L211.2,490.5Z" fill="#5279c2" stroke="#5279c2" stroke-width="0.8"/>
<path d="M211.2,490.5 L208.4,506.6 L197.5,504.2 L201.7,488.4Z" fill="#5c86c9" stroke="#5c86c9" stroke-width="0.8"/>
<path d="M201.7,488.4 L197.5,504.2 L186.9,500.8 L192.5,485.5Z" fill="#4a6dbb" stroke="#4a6dbb" stroke-width="0.8"/>
<path d="M192.5,485.5 L186.9,500.8 L176.6,496.6 L183.5,481.8Z" fill="#5279c2" stroke="#5279c2" stroke-width="0.8"/>
<path d="M183.5,481.8 L176.6,496.6 L166.7,491.4 L174.9,477.3Z" fill="#5279c2" stroke="#5279c2" stroke-width="0.8"/>
<path d="M174.9,477.3 L166.7,491.4 L157.4,485.5 L166.7,472.1Z" fill="#5279c2" stroke="#5279c2" stroke-width="0.8"/>
<path d="M166.7,472.1 L157.4,485.5 L148.5,478.7 L159.0,466.2Z" fill="#3b52a8" stroke="#3b52a8" stroke-width="0.8"/>
<path d="M159.0,466.2 L148.5,478.7 L140.3,471.2 L151.9,459.6Z" fill="#4a6dbb" stroke="#4a6dbb" stroke-width="0.8"/>
<path d="M145.3,452.5 L132.8,463.0 L126.0,454.1 L139.4,444.8Z" fill="#5279c2" stroke="#5279c2" stroke-width="0.8"/>
<path d="M139.4,444.8 L126.0,454.1 L120.1,444.8 L134.2,436.6Z" fill="#5279c2" stroke="#5279c2" stroke-width="0.8"/>
<path d="M134.2,436.6 L120.1,444.8 L114.9,434.9 L129.7,428.0Z" fill="#5279c2" stroke="#5279c2" stroke-width="0.8"/>
<path d="M129.7,428.0 L114.9,434.9 L110.7,424.6 L126.0,419.0Z" fill="#5279c2" stroke="#5279c2" stroke-width="0.8"/>
<path d="M126.0,419.0 L110.7,424.6 L107.3,414.0 L123.1,409.8Z" fill="#5279c2" stroke="#5279c2" stroke-width="0.8"/>
<path d="M123.1,409.8 L107.3,414.0 L104.9,403.1 L121.0,400.3Z" fill="#5c86c9" stroke="#5c86c9" stroke-width="0.8"/>
<path d="M119.7,390.7 L103.5,392.1 L103.0,381.0 L119.3,381.0Z" fill="#3b52a8" stroke="#3b52a8" stroke-width="0.8"/>
<path d="M119.7,371.3 L103.5,369.9 L104.9,358.9 L121.0,361.7Z" fill="#4a6dbb" stroke="#4a6dbb" stroke-width="0.8"/>
<path d="M123.1,352.2 L107.3,348.0 L110.7,337.4 L126.0,343.0Z" fill="#5c86c9" stroke="#5c86c9" stroke-width="0.8"/>
<path d="M126.0,343.0 L110.7,337.4 L114.9,327.1 L129.7,334.0Z" fill="#5279c2" stroke="#5279c2" stroke-width="0.8"/>
<path d="M129.7,334.0 L114.9,327.1 L120.1,317.2 L134.2,325.4Z" fill="#3b52a8" stroke="#3b52a8" stroke-width="0.8"/>
<path d="M134.2,325.4 L120.1,317.2 L126.0,307.9 L139.4,317.2Z" fill="#4a6dbb" stroke="#4a6dbb" stroke-width="0.8"/>
<path d="M145.3,309.5 L132.8,299.0 L140.3,290.8 L151.9,302.4Z" fill="#3b52a8" stroke="#3b52a8" stroke-width="0.8"/>
<path d="M159.0,295.8 L148.5,283.3 L157.4,276.5 L166.7,289.9Z" fill="#3b52a8" stroke="#3b52a8" stroke-width="0.8"/>
<path d="M166.7,289.9 L157.4,276.5 L166.7,270.6 L174.9,284.7Z" fill="#4a6dbb" stroke="#4a6dbb" stroke-width="0.8"/>
<path d="M183.5,280.2 L176.6,265.4 L186.9,261.2 L192.5,276.5Z" fill="#3b52a8" stroke="#3b52a8" stroke-width="0.8"/>
<path d="M201.7,273.6 L197.5,257.8 L208.4,255.4 L211.2,271.5Z" fill="#4a6dbb" stroke="#4a6dbb" stroke-width="0.8"/>
<path d="M211.2,271.5 L208.4,255.4 L219.4,254.0 L220.8,270.2Z" fill="#4a6dbb" stroke="#4a6dbb" stroke-width="0.8"/>
<path d="M230.5,253.9 L230.5,237.6 L243.0,238.1 L241.6,254.4Z" fill="#3b52a8" stroke="#3b52a8" stroke-width="0.8"/>
<path d="M241.6,254.4 L243.0,238.1 L255.4,239.8 L252.6,255.8Z" fill="#4a6dbb" stroke="#4a6dbb" stroke-width="0.8"/>
<path d="M252.6,255.8 L255.4,239.8 L267.6,242.5 L263.4,258.2Z" fill="#4a6dbb" stroke="#4a6dbb" stroke-width="0.8"/>
<path d="M263.4,258.2 L267.6,242.5 L279.5,246.2 L274.0,261.6Z" fill="#4a6dbb" stroke="#4a6dbb" stroke-width="0.8"/>
<path d="M274.0,261.6 L279.5,246.2 L291.1,251.0 L284.2,265.8Z" fill="#4a6dbb" stroke="#4a6dbb" stroke-width="0.8"/>
<path d="M284.2,265.8 L291.1,251.0 L302.2,256.8 L294.1,270.9Z" fill="#4a6dbb" stroke="#4a6dbb" stroke-width="0.8"/>
<path d="M303.4,276.9 L312.8,263.5 L322.7,271.1 L312.2,283.6Z" fill="#4a6dbb" stroke="#4a6dbb" stroke-width="0.8"/>
<path d="M327.9,299.3 L340.4,288.8 L348.0,298.7 L334.6,308.1Z" fill="#4a6dbb" stroke="#4a6dbb" stroke-width="0.8"/>
<path d="M345.7,327.3 L360.5,320.4 L365.3,332.0 L349.9,337.5Z" fill="#5279c2" stroke="#5279c2" stroke-width="0.8"/>
<path d="M355.7,358.9 L371.7,356.1 L373.4,368.5 L357.1,369.9Z" fill="#34489f" stroke="#34489f" stroke-width="0.8"/>
<path d="M353.3,413.9 L369.0,418.1 L365.3,430.0 L349.9,424.5Z" fill="#4a6dbb" stroke="#4a6dbb" stroke-width="0.8"/>
<path d="M349.9,424.5 L365.3,430.0 L360.5,441.6 L345.7,434.7Z" fill="#4a6dbb" stroke="#4a6dbb" stroke-width="0.8"/>
<path d="M345.7,434.7 L360.5,441.6 L354.7,452.7 L340.6,444.6Z" fill="#4a6dbb" stroke="#4a6dbb" stroke-width="0.8"/>
<path d="M340.6,444.6 L354.7,452.7 L348.0,463.3 L334.6,453.9Z" fill="#3b52a8" stroke="#3b52a8" stroke-width="0.8"/>
<path d="M334.6,453.9 L348.0,463.3 L340.4,473.2 L327.9,462.7Z" fill="#4a6dbb" stroke="#4a6dbb" stroke-width="0.8"/>
<path d="M327.9,462.7 L340.4,473.2 L331.9,482.4 L320.4,470.9Z" fill="#4a6dbb" stroke="#4a6dbb" stroke-width="0.8"/>
<path d="M320.4,470.9 L331.9,482.4 L322.7,490.9 L312.2,478.4Z" fill="#5279c2" stroke="#5279c2" stroke-width="0.8"/>
<path d="M312.2,478.4 L322.7,490.9 L312.8,498.5 L303.4,485.1Z" fill="#5c86c9" stroke="#5c86c9" stroke-width="0.8"/>
<path d="M303.4,485.1 L312.8,498.5 L302.2,505.2 L294.1,491.1Z" fill="#5c86c9" stroke="#5c86c9" stroke-width="0.8"/>
<path d="M294.1,491.1 L302.2,505.2 L291.1,511.0 L284.2,496.2Z" fill="#4a6dbb" stroke="#4a6dbb" stroke-width="0.8"/>
<path d="M274.0,500.4 L279.5,515.8 L267.6,519.5 L263.4,503.8Z" fill="#5279c2" stroke="#5279c2" stroke-width="0.8"/>
<path d="M263.4,503.8 L267.6,519.5 L255.4,522.2 L252.6,506.2Z" fill="#4a6dbb" stroke="#4a6dbb" stroke-width="0.8"/>
<path d="M230.5,508.1 L230.5,524.4 L218.0,523.9 L219.4,507.6Z" fill="#3b52a8" stroke="#3b52a8" stroke-width="0.8"/>
<path d="M219.4,507.6 L218.0,523.9 L205.6,522.2 L208.4,506.2Z" fill="#5279c2" stroke="#5279c2" stroke-width="0.8"/>
<path d="M208.4,506.2 L205.6,522.2 L193.4,519.5 L197.6,503.8Z" fill="#5279c2" stroke="#5279c2" stroke-width="0.8"/>
<path d="M197.6,503.8 L193.4,519.5 L181.5,515.8 L187.0,500.4Z" fill="#5279c2" stroke="#5279c2" stroke-width="0.8"/>
<path d="M187.0,500.4 L181.5,515.8 L169.9,511.0 L176.8,496.2Z" fill="#5c86c9" stroke="#5c86c9" stroke-width="0.8"/>
<path d="M176.8,496.2 L169.9,511.0 L158.8,505.2 L166.9,491.1Z" fill="#5279c2" stroke="#5279c2" stroke-width="0.8"/>
<path d="M166.9,491.1 L158.8,505.2 L148.2,498.5 L157.6,485.1Z" fill="#5279c2" stroke="#5279c2" stroke-width="0.8"/>
<path d="M157.6,485.1 L148.2,498.5 L138.3,490.9 L148.8,478.4Z" fill="#3b52a8" stroke="#3b52a8" stroke-width="0.8"/>
<path d="M148.8,478.4 L138.3,490.9 L129.1,482.4 L140.6,470.9Z" fill="#4a6dbb" stroke="#4a6dbb" stroke-width="0.8"/>
<path d="M140.6,470.9 L129.1,482.4 L120.6,473.2 L133.1,462.7Z" fill="#4a6dbb" stroke="#4a6dbb" stroke-width="0.8"/>
<path d="M133.1,462.7 L120.6,473.2 L113.0,463.3 L126.4,453.9Z" fill="#4a6dbb" stroke="#4a6dbb" stroke-width="0.8"/>
<path d="M126.4,453.9 L113.0,463.3 L106.3,452.7 L120.4,444.6Z" fill="#5279c2" stroke="#5279c2" stroke-width="0.8"/>
<path d="M120.4,444.6 L106.3,452.7 L100.5,441.6 L115.3,434.7Z" fill="#5279c2" stroke="#5279c2" stroke-width="0.8"/>
<path d="M115.3,434.7 L100.5,441.6 L95.7,430.0 L111.1,424.5Z" fill="#4a6dbb" stroke="#4a6dbb" stroke-width="0.8"/>
<path d="M105.3,403.1 L89.3,405.9 L87.6,393.5 L103.9,392.1Z" fill="#34489f" stroke="#34489f" stroke-width="0.8"/>
<path d="M103.9,392.1 L87.6,393.5 L87.1,381.0 L103.4,381.0Z" fill="#34489f" stroke="#34489f" stroke-width="0.8"/>
<path d="M103.9,369.9 L87.6,368.5 L89.3,356.1 L105.3,358.9Z" fill="#4a6dbb" stroke="#4a6dbb" stroke-width="0.8"/>
<path d="M107.7,348.1 L92.0,343.9 L95.7,332.0 L111.1,337.5Z" fill="#5279c2" stroke="#5279c2" stroke-width="0.8"/>
<path d="M111.1,337.5 L95.7,332.0 L100.5,320.4 L115.3,327.3Z" fill="#5c86c9" stroke="#5c86c9" stroke-width="0.8"/>
<path d="M115.3,327.3 L100.5,320.4 L106.3,309.3 L120.4,317.4Z" fill="#3b52a8" stroke="#3b52a8" stroke-width="0.8"/>
<path d="M126.4,308.1 L113.0,298.7 L120.6,288.8 L133.1,299.3Z" fill="#3b52a8" stroke="#3b52a8" stroke-width="0.8"/>
<path d="M133.1,299.3 L120.6,288.8 L129.1,279.6 L140.6,291.1Z" fill="#3b52a8" stroke="#3b52a8" stroke-width="0.8"/>
<path d="M140.6,291.1 L129.1,279.6 L138.3,271.1 L148.8,283.6Z" fill="#3b52a8" stroke="#3b52a8" stroke-width="0.8"/>
<path d="M148.8,283.6 L138.3,271.1 L148.2,263.5 L157.6,276.9Z" fill="#4a6dbb" stroke="#4a6dbb" stroke-width="0.8"/>
<path d="M157.6,276.9 L148.2,263.5 L158.8,256.8 L166.9,270.9Z" fill="#5279c2" stroke="#5279c2" stroke-width="0.8"/>
<path d="M166.9,270.9 L158.8,256.8 L169.9,251.0 L176.8,265.8Z" fill="#4a6dbb" stroke="#4a6dbb" stroke-width="0.8"/>
<path d="M176.8,265.8 L169.9,251.0 L181.5,246.2 L187.0,261.6Z" fill="#3b52a8" stroke="#3b52a8" stroke-width="0.8"/>
</g>
<g fill="none" stroke="#f4f0c4" stroke-width="1">
<circle cx="230.5" cy="381.0" r="47.67" stroke-width="1"/>
<circle cx="230.5" cy="381.0" r="95.33" stroke-width="1"/>
<circle cx="230.5" cy="381.0" r="143.0" stroke-width="1.2"/>
<line x1="230.5" y1="381.0" x2="230.5" y2="238.0" stroke-width="1"/>
<line x1="230.5" y1="381.0" x2="331.6" y2="279.9" stroke-width="0.8"/>
<line x1="230.5" y1="381.0" x2="373.5" y2="381.0" stroke-width="1"/>
<line x1="230.5" y1="381.0" x2="331.6" y2="482.1" stroke-width="0.8"/>
<line x1="230.5" y1="381.0" x2="230.5" y2="524.0" stroke-width="1"/>
<line x1="230.5" y1="381.0" x2="129.4" y2="482.1" stroke-width="0.8"/>
<line x1="230.5" y1="381.0" x2="87.5" y2="381.0" stroke-width="1"/>
<line x1="230.5" y1="381.0" x2="129.4" y2="279.9" stroke-width="0.8"/>
</g>
<g fill="#00ff00" font-family="'Liberation Serif', serif" font-size="13.5" stroke="#00ff00" stroke-width="0.3">
<text x="185.5" y="240.8" textLength="24" lengthAdjust="spacingAndGlyphs">C25</text>
<text x="186.0" y="252.0" textLength="24" lengthAdjust="spacingAndGlyphs">E11</text>
<text x="148.1" y="258.2" textLength="24" lengthAdjust="spacingAndGlyphs">G10</text>
<text x="171.3" y="261.7" textLength="24" lengthAdjust="spacingAndGlyphs">C08</text>
<text x="198.5" y="259.0" textLength="31" lengthAdjust="spacingAndGlyphs">J196</text>
<text x="209.8" y="265.9" textLength="24" lengthAdjust="spacingAndGlyphs">G25</text>
<text x="130.2" y="268.8" textLength="24" lengthAdjust="spacingAndGlyphs">C16</text>
<text x="121.1" y="281.7" textLength="24" lengthAdjust="spacingAndGlyphs">C06</text>
<text x="129.8" y="290.0" textLength="24" lengthAdjust="spacingAndGlyphs">E04</text>
<text x="155.3" y="283.3" textLength="24" lengthAdjust="spacingAndGlyphs">R10</text>
<text x="179.9" y="285.2" textLength="24" lengthAdjust="spacingAndGlyphs">C38</text>
<text x="201.1" y="293.9" textLength="24" lengthAdjust="spacingAndGlyphs">E01</text>
<text x="212.1" y="295.0" textLength="24" lengthAdjust="spacingAndGlyphs">C09</text>
<text x="110.5" y="306.4" textLength="24" lengthAdjust="spacingAndGlyphs">C09</text>
<text x="127.9" y="315.0" textLength="24" lengthAdjust="spacingAndGlyphs">C23</text>
<text x="152.0" y="312.2" textLength="24" lengthAdjust="spacingAndGlyphs">C03</text>
<text x="179.9" y="310.2" textLength="31" lengthAdjust="spacingAndGlyphs">J193</text>
<text x="185.5" y="310.2" textLength="24" lengthAdjust="spacingAndGlyphs">G23</text>
<text x="210.8" y="316.0" textLength="24" lengthAdjust="spacingAndGlyphs">E12</text>
<text x="111.5" y="331.4" textLength="31" lengthAdjust="spacingAndGlyphs">J200</text>
<text x="103.5" y="332.0" textLength="24" lengthAdjust="spacingAndGlyphs">C02</text>
<text x="98.0" y="339.1" textLength="24" lengthAdjust="spacingAndGlyphs">C60</text>
<text x="129.5" y="339.1" textLength="24" lengthAdjust="spacingAndGlyphs">C56</text>
<text x="100.9" y="355.5" textLength="24" lengthAdjust="spacingAndGlyphs">E06</text>
<text x="127.9" y="365.2" textLength="31" lengthAdjust="spacingAndGlyphs">J194</text>
<text x="188.6" y="365.2" textLength="31" lengthAdjust="spacingAndGlyphs">J195</text>
<text x="94.2" y="372.9" textLength="24" lengthAdjust="spacingAndGlyphs">E09</text>
<text x="135.2" y="378.6" textLength="24" lengthAdjust="spacingAndGlyphs">R11</text>
<text x="233.2" y="273.6" textLength="24" lengthAdjust="spacingAndGlyphs">C33</text>
<text x="258.3" y="273.6" textLength="24" lengthAdjust="spacingAndGlyphs">R27</text>
<text x="218.2" y="296.6" textLength="24" lengthAdjust="spacingAndGlyphs">C01</text>
<text x="248.6" y="298.7" textLength="24" lengthAdjust="spacingAndGlyphs">C04</text>
<text x="251.5" y="300.0" textLength="24" lengthAdjust="spacingAndGlyphs">C02</text>
<text x="271.8" y="295.8" textLength="24" lengthAdjust="spacingAndGlyphs">R06</text>
<text x="260.2" y="311.2" textLength="24" lengthAdjust="spacingAndGlyphs">C14</text>
<text x="304.9" y="338.2" textLength="24" lengthAdjust="spacingAndGlyphs">G15</text>
<text x="281.4" y="358.4" textLength="24" lengthAdjust="spacingAndGlyphs">C42</text>
<text x="306.4" y="358.4" textLength="24" lengthAdjust="spacingAndGlyphs">E01</text>
<text x="354.2" y="362.3" textLength="24" lengthAdjust="spacingAndGlyphs">C31</text>
<text x="258.3" y="367.1" textLength="24" lengthAdjust="spacingAndGlyphs">G29</text>
<text x="240.0" y="380.6" textLength="24" lengthAdjust="spacingAndGlyphs">E31</text>
<text x="316.1" y="371.9" textLength="24" lengthAdjust="spacingAndGlyphs">C34</text>
<text x="323.8" y="375.8" textLength="24" lengthAdjust="spacingAndGlyphs">C20</text>
<text x="81.5" y="384.7" textLength="24" lengthAdjust="spacingAndGlyphs">C12</text>
<text x="83.5" y="401.1" textLength="24" lengthAdjust="spacingAndGlyphs">R22</text>
<text x="135.6" y="405.9" textLength="24" lengthAdjust="spacingAndGlyphs">G26</text>
<text x="179.9" y="400.1" textLength="24" lengthAdjust="spacingAndGlyphs">G07</text>
<text x="181.5" y="401.0" textLength="24" lengthAdjust="spacingAndGlyphs">G03</text>
<text x="203.1" y="404.0" textLength="24" lengthAdjust="spacingAndGlyphs">C40</text>
<text x="114.4" y="413.6" textLength="24" lengthAdjust="spacingAndGlyphs">C37</text>
<text x="131.8" y="416.5" textLength="24" lengthAdjust="spacingAndGlyphs">C28</text>
<text x="162.2" y="410.5" textLength="24" lengthAdjust="spacingAndGlyphs">C10</text>
<text x="182.1" y="410.5" textLength="24" lengthAdjust="spacingAndGlyphs">E16</text>
<text x="174.1" y="421.5" textLength="24" lengthAdjust="spacingAndGlyphs">E24</text>
<text x="183.8" y="431.0" textLength="24" lengthAdjust="spacingAndGlyphs">R21</text>
<text x="108.6" y="440.6" textLength="24" lengthAdjust="spacingAndGlyphs">E25</text>
<text x="141.4" y="464.7" textLength="24" lengthAdjust="spacingAndGlyphs">G16</text>
<text x="157.8" y="479.1" textLength="24" lengthAdjust="spacingAndGlyphs">R12</text>
<text x="226.5" y="403.0" textLength="24" lengthAdjust="spacingAndGlyphs">C43</text>
<text x="278.5" y="397.2" textLength="24" lengthAdjust="spacingAndGlyphs">C11</text>
<text x="293.9" y="402.0" textLength="24" lengthAdjust="spacingAndGlyphs">C59</text>
<text x="293.9" y="388.5" textLength="24" lengthAdjust="spacingAndGlyphs">R08</text>
<text x="333.4" y="387.6" textLength="24" lengthAdjust="spacingAndGlyphs">G13</text>
<text x="353.7" y="393.4" textLength="24" lengthAdjust="spacingAndGlyphs">R19</text>
<text x="268.9" y="428.1" textLength="24" lengthAdjust="spacingAndGlyphs">R28</text>
<text x="269.5" y="430.0" textLength="24" lengthAdjust="spacingAndGlyphs">R26</text>
<text x="283.3" y="439.6" textLength="24" lengthAdjust="spacingAndGlyphs">C05</text>
<text x="294.9" y="445.4" textLength="24" lengthAdjust="spacingAndGlyphs">C21</text>
<text x="332.5" y="459.9" textLength="24" lengthAdjust="spacingAndGlyphs">E18</text>
<text x="264.0" y="470.5" textLength="24" lengthAdjust="spacingAndGlyphs">E33</text>
<text x="277.5" y="477.2" textLength="24" lengthAdjust="spacingAndGlyphs">R04</text>
<text x="304.5" y="477.2" textLength="24" lengthAdjust="spacingAndGlyphs">G21</text>
<text x="272.7" y="489.7" textLength="24" lengthAdjust="spacingAndGlyphs">E36</text>
<path d="M192.0,248.5H199.0M195.5,245.0V252.0" stroke="#00ff00" stroke-width="1" fill="none"/>
<path d="M193.0,260.5H200.0M196.5,257.0V264.0" stroke="#00ff00" stroke-width="1" fill="none"/>
<path d="M156.0,264.5H163.0M159.5,261.0V268.0" stroke="#00ff00" stroke-width="1" fill="none"/>
<path d="M178.0,268.5H185.0M181.5,265.0V272.0" stroke="#00ff00" stroke-width="1" fill="none"/>
<path d="M205.0,266.5H212.0M208.5,263.0V270.0" stroke="#00ff00" stroke-width="1" fill="none"/>
<path d="M218.0,272.5H225.0M221.5,269.0V276.0" stroke="#00ff00" stroke-width="1" fill="none"/>
<path d="M129.0,289.5H136.0M132.5,286.0V293.0" stroke="#00ff00" stroke-width="1" fill="none"/>
<path d="M137.0,297.5H144.0M140.5,294.0V301.0" stroke="#00ff00" stroke-width="1" fill="none"/>
<path d="M163.0,290.5H170.0M166.5,287.0V294.0" stroke="#00ff00" stroke-width="1" fill="none"/>
<path d="M188.0,291.5H195.0M191.5,288.0V295.0" stroke="#00ff00" stroke-width="1" fill="none"/>
<path d="M217.0,301.5H224.0M220.5,298.0V305.0" stroke="#00ff00" stroke-width="1" fill="none"/>
<path d="M225.0,303.5H232.0M228.5,300.0V307.0" stroke="#00ff00" stroke-width="1" fill="none"/>
<path d="M119.0,314.5H126.0M122.5,311.0V318.0" stroke="#00ff00" stroke-width="1" fill="none"/>
<path d="M160.0,319.5H167.0M163.5,316.0V323.0" stroke="#00ff00" stroke-width="1" fill="none"/>
<path d="M192.0,314.5H199.0M195.5,311.0V318.0" stroke="#00ff00" stroke-width="1" fill="none"/>
<path d="M195.0,314.5H202.0M198.5,311.0V318.0" stroke="#00ff00" stroke-width="1" fill="none"/>
<path d="M218.0,323.5H225.0M221.5,320.0V327.0" stroke="#00ff00" stroke-width="1" fill="none"/>
<path d="M111.0,340.5H118.0M114.5,337.0V344.0" stroke="#00ff00" stroke-width="1" fill="none"/>
<path d="M123.0,336.5H130.0M126.5,333.0V340.0" stroke="#00ff00" stroke-width="1" fill="none"/>
<path d="M138.0,345.5H145.0M141.5,342.0V349.0" stroke="#00ff00" stroke-width="1" fill="none"/>
<path d="M106.0,346.5H113.0M109.5,343.0V350.0" stroke="#00ff00" stroke-width="1" fill="none"/>
<path d="M110.0,363.5H117.0M113.5,360.0V367.0" stroke="#00ff00" stroke-width="1" fill="none"/>
<path d="M142.0,370.5H149.0M145.5,367.0V374.0" stroke="#00ff00" stroke-width="1" fill="none"/>
<path d="M201.0,373.5H208.0M204.5,370.0V377.0" stroke="#00ff00" stroke-width="1" fill="none"/>
<path d="M100.0,379.5H107.0M103.5,376.0V383.0" stroke="#00ff00" stroke-width="1" fill="none"/>
<path d="M241.0,280.5H248.0M244.5,277.0V284.0" stroke="#00ff00" stroke-width="1" fill="none"/>
<path d="M267.0,281.5H274.0M270.5,278.0V285.0" stroke="#00ff00" stroke-width="1" fill="none"/>
<path d="M226.0,303.5H233.0M229.5,300.0V307.0" stroke="#00ff00" stroke-width="1" fill="none"/>
<path d="M256.0,304.5H263.0M259.5,301.0V308.0" stroke="#00ff00" stroke-width="1" fill="none"/>
<path d="M280.0,304.5H287.0M283.5,301.0V308.0" stroke="#00ff00" stroke-width="1" fill="none"/>
<path d="M268.0,318.5H275.0M271.5,315.0V322.0" stroke="#00ff00" stroke-width="1" fill="none"/>
<path d="M312.0,344.5H319.0M315.5,341.0V348.0" stroke="#00ff00" stroke-width="1" fill="none"/>
<path d="M289.0,365.5H296.0M292.5,362.0V369.0" stroke="#00ff00" stroke-width="1" fill="none"/>
<path d="M266.0,373.5H273.0M269.5,370.0V377.0" stroke="#00ff00" stroke-width="1" fill="none"/>
<path d="M315.0,364.5H322.0M318.5,361.0V368.0" stroke="#00ff00" stroke-width="1" fill="none"/>
<path d="M362.0,369.5H369.0M365.5,366.0V373.0" stroke="#00ff00" stroke-width="1" fill="none"/>
<path d="M91.0,406.5H98.0M94.5,403.0V410.0" stroke="#00ff00" stroke-width="1" fill="none"/>
<path d="M122.0,420.5H129.0M125.5,417.0V424.0" stroke="#00ff00" stroke-width="1" fill="none"/>
<path d="M138.0,423.5H145.0M141.5,420.0V427.0" stroke="#00ff00" stroke-width="1" fill="none"/>
<path d="M143.0,411.5H150.0M146.5,408.0V415.0" stroke="#00ff00" stroke-width="1" fill="none"/>
<path d="M143.0,385.5H150.0M146.5,382.0V389.0" stroke="#00ff00" stroke-width="1" fill="none"/>
<path d="M170.0,418.5H177.0M173.5,415.0V422.0" stroke="#00ff00" stroke-width="1" fill="none"/>
<path d="M182.0,430.5H189.0M185.5,427.0V434.0" stroke="#00ff00" stroke-width="1" fill="none"/>
<path d="M190.0,438.5H197.0M193.5,435.0V442.0" stroke="#00ff00" stroke-width="1" fill="none"/>
<path d="M209.0,411.5H216.0M212.5,408.0V415.0" stroke="#00ff00" stroke-width="1" fill="none"/>
<path d="M115.0,447.5H122.0M118.5,444.0V451.0" stroke="#00ff00" stroke-width="1" fill="none"/>
<path d="M149.0,471.5H156.0M152.5,468.0V475.0" stroke="#00ff00" stroke-width="1" fill="none"/>
<path d="M165.0,486.5H172.0M168.5,483.0V490.0" stroke="#00ff00" stroke-width="1" fill="none"/>
<path d="M248.0,388.5H255.0M251.5,385.0V392.0" stroke="#00ff00" stroke-width="1" fill="none"/>
<path d="M286.0,404.5H293.0M289.5,401.0V408.0" stroke="#00ff00" stroke-width="1" fill="none"/>
<path d="M235.0,410.5H242.0M238.5,407.0V414.0" stroke="#00ff00" stroke-width="1" fill="none"/>
<path d="M324.0,380.5H331.0M327.5,377.0V384.0" stroke="#00ff00" stroke-width="1" fill="none"/>
<path d="M332.0,383.5H339.0M335.5,380.0V387.0" stroke="#00ff00" stroke-width="1" fill="none"/>
<path d="M343.0,394.5H350.0M346.5,391.0V398.0" stroke="#00ff00" stroke-width="1" fill="none"/>
<path d="M360.0,401.5H367.0M363.5,398.0V405.0" stroke="#00ff00" stroke-width="1" fill="none"/>
<path d="M276.0,433.5H283.0M279.5,430.0V437.0" stroke="#00ff00" stroke-width="1" fill="none"/>
<path d="M291.0,446.5H298.0M294.5,443.0V450.0" stroke="#00ff00" stroke-width="1" fill="none"/>
<path d="M303.0,452.5H310.0M306.5,449.0V456.0" stroke="#00ff00" stroke-width="1" fill="none"/>
<path d="M341.0,467.5H348.0M344.5,464.0V471.0" stroke="#00ff00" stroke-width="1" fill="none"/>
<path d="M272.0,477.5H279.0M275.5,474.0V481.0" stroke="#00ff00" stroke-width="1" fill="none"/>
<path d="M313.0,484.5H320.0M316.5,481.0V488.0" stroke="#00ff00" stroke-width="1" fill="none"/>
<path d="M286.0,484.5H293.0M289.5,481.0V488.0" stroke="#00ff00" stroke-width="1" fill="none"/>
<path d="M280.0,497.5H287.0M283.5,494.0V501.0" stroke="#00ff00" stroke-width="1" fill="none"/>
</g>
<line x1="230.5" y1="381.0" x2="298.6" y2="411.6" stroke="#f0a030" stroke-width="1"/>
<path d="M318.6,374.5 L314.5,381 L310.2,388.5 L314.2,393.5 L313,400 L308.8,407 L302.2,414 L298.6,420 L296,428 L294.2,433.5" fill="none" stroke="#ffa500" stroke-width="7.5" stroke-linecap="round" stroke-linejoin="round"/>
<text x="721.8" y="189.7" fill="#eeeeb0" font-size="17" font-family="'Liberation Sans', sans-serif" text-anchor="middle" textLength="108" lengthAdjust="spacingAndGlyphs" >Waterfall Plot</text>
<g stroke="#eeeeb0" stroke-width="1" fill="none">
<path d="M510.5,300.5V466.2"/>
<path d="M510.5,300.5h7.5"/>
<path d="M510.5,328.5h7.5"/>
<path d="M510.5,355.5h7.5"/>
<path d="M510.5,383.5h7.5"/>
<path d="M510.5,411.5h7.5"/>
<path d="M510.5,438.5h7.5"/>
<path d="M510.5,465.5h7.5"/>
<path d="M510.25,466.15L779,512L933.5,431.2L664.8,385.3Z"/>
<path d="M532.3,454.6l7.5,1.3"/>
<path d="M801.1,500.5l-7.5,-1.3"/>
<path d="M554.4,443.1l7.5,1.3"/>
<path d="M823.1,488.9l-7.5,-1.3"/>
<path d="M576.5,431.5l7.5,1.3"/>
<path d="M845.2,477.4l-7.5,-1.3"/>
<path d="M598.5,420.0l7.5,1.3"/>
<path d="M867.3,465.8l-7.5,-1.3"/>
<path d="M620.6,408.4l7.5,1.3"/>
<path d="M889.4,454.3l-7.5,-1.3"/>
<path d="M642.7,396.9l7.5,1.3"/>
<path d="M911.4,442.7l-7.5,-1.3"/>
<path d="M718.5,394.5l-7.1,3.7"/>
<path d="M564.0,475.3l3.5,-1.8"/>
<path d="M772.2,403.7l-7.1,3.7"/>
<path d="M617.8,484.5l3.5,-1.8"/>
<path d="M826.0,412.9l-7.1,3.7"/>
<path d="M671.5,493.7l3.5,-1.8"/>
<path d="M879.8,422.0l-7.1,3.7"/>
<path d="M725.2,502.8l3.5,-1.8"/>
</g>
<text x="497.3" y="304.0" fill="#eeeeb0" font-size="17" font-family="'Liberation Sans', sans-serif" text-anchor="end" textLength="10.2" lengthAdjust="spacingAndGlyphs" >0</text>
<text x="497.3" y="332.0" fill="#eeeeb0" font-size="17" font-family="'Liberation Sans', sans-serif" text-anchor="end" textLength="28.1" lengthAdjust="spacingAndGlyphs" >-20</text>
<text x="497.3" y="359.0" fill="#eeeeb0" font-size="17" font-family="'Liberation Sans', sans-serif" text-anchor="end" textLength="28.1" lengthAdjust="spacingAndGlyphs" >-40</text>
<text x="497.3" y="387.0" fill="#eeeeb0" font-size="17" font-family="'Liberation Sans', sans-serif" text-anchor="end" textLength="28.1" lengthAdjust="spacingAndGlyphs" >-60</text>
<text x="497.3" y="415.0" fill="#eeeeb0" font-size="17" font-family="'Liberation Sans', sans-serif" text-anchor="end" textLength="28.1" lengthAdjust="spacingAndGlyphs" >-80</text>
<text x="497.3" y="442.0" fill="#eeeeb0" font-size="17" font-family="'Liberation Sans', sans-serif" text-anchor="end" textLength="38.3" lengthAdjust="spacingAndGlyphs" >-100</text>
<text x="497.3" y="469.0" fill="#eeeeb0" font-size="17" font-family="'Liberation Sans', sans-serif" text-anchor="end" textLength="38.3" lengthAdjust="spacingAndGlyphs" >-120</text>
<text x="0.0" y="0.0" fill="#eeeeb0" font-size="17" font-family="'Liberation Sans', sans-serif" text-anchor="middle" textLength="86" lengthAdjust="spacingAndGlyphs" transform="translate(437.5,381.1) rotate(-90)">PSD (dBm)</text>
<text x="467.6" y="474.6" fill="#eeeeb0" font-size="17" font-family="'Liberation Sans', sans-serif" text-anchor="start" textLength="72" lengthAdjust="spacingAndGlyphs" >19:26:00</text>
<text x="521.1" y="484.1" fill="#eeeeb0" font-size="17" font-family="'Liberation Sans', sans-serif" text-anchor="start" textLength="72" lengthAdjust="spacingAndGlyphs" >19:26:20</text>
<text x="574.5" y="493.6" fill="#eeeeb0" font-size="17" font-family="'Liberation Sans', sans-serif" text-anchor="start" textLength="72" lengthAdjust="spacingAndGlyphs" >19:26:40</text>
<text x="628.0" y="503.1" fill="#eeeeb0" font-size="17" font-family="'Liberation Sans', sans-serif" text-anchor="start" textLength="72" lengthAdjust="spacingAndGlyphs" >19:27:00</text>
<text x="681.4" y="512.6" fill="#eeeeb0" font-size="17" font-family="'Liberation Sans', sans-serif" text-anchor="start" textLength="72" lengthAdjust="spacingAndGlyphs" >19:27:20</text>
<text x="734.9" y="522.1" fill="#eeeeb0" font-size="17" font-family="'Liberation Sans', sans-serif" text-anchor="start" textLength="72" lengthAdjust="spacingAndGlyphs" >19:27:40</text>
<text x="0.0" y="0.0" fill="#eeeeb0" font-size="17" font-family="'Liberation Sans', sans-serif" text-anchor="middle" textLength="88" lengthAdjust="spacingAndGlyphs" transform="translate(599.5,516) rotate(9.5)">Time (UTC)</text>
<text x="797.0" y="519.4" fill="#eeeeb0" font-size="17" font-family="'Liberation Sans', sans-serif" text-anchor="start" textLength="38" lengthAdjust="spacingAndGlyphs" >1210</text>
<text x="819.3" y="507.8" fill="#eeeeb0" font-size="17" font-family="'Liberation Sans', sans-serif" text-anchor="start" textLength="38" lengthAdjust="spacingAndGlyphs" >1215</text>
<text x="841.6" y="496.1" fill="#eeeeb0" font-size="17" font-family="'Liberation Sans', sans-serif" text-anchor="start" textLength="38" lengthAdjust="spacingAndGlyphs" >1220</text>
<text x="863.9" y="484.5" fill="#eeeeb0" font-size="17" font-family="'Liberation Sans', sans-serif" text-anchor="start" textLength="38" lengthAdjust="spacingAndGlyphs" >1225</text>
<text x="886.2" y="472.9" fill="#eeeeb0" font-size="17" font-family="'Liberation Sans', sans-serif" text-anchor="start" textLength="38" lengthAdjust="spacingAndGlyphs" >1230</text>
<text x="908.5" y="461.2" fill="#eeeeb0" font-size="17" font-family="'Liberation Sans', sans-serif" text-anchor="start" textLength="38" lengthAdjust="spacingAndGlyphs" >1235</text>
<text x="930.8" y="449.6" fill="#eeeeb0" font-size="17" font-family="'Liberation Sans', sans-serif" text-anchor="start" textLength="38" lengthAdjust="spacingAndGlyphs" >1240</text>
<text x="953.1" y="438.0" fill="#eeeeb0" font-size="17" font-family="'Liberation Sans', sans-serif" text-anchor="start" textLength="38" lengthAdjust="spacingAndGlyphs" >1245</text>
<text x="0.0" y="0.0" fill="#eeeeb0" font-size="17" font-family="'Liberation Sans', sans-serif" text-anchor="middle" textLength="134" lengthAdjust="spacingAndGlyphs" transform="translate(933.5,488.5) rotate(-27.6)">Frequency (MHz)</text>
<defs>
<linearGradient id="wg0_0" x1="0" y1="0" x2="0" y2="1"><stop offset="0" stop-color="#9cc8ea"/><stop offset="0.25" stop-color="#94c2e8"/><stop offset="0.45" stop-color="#88b8e4"/><stop offset="0.6" stop-color="#80b0e0"/><stop offset="0.78" stop-color="#76a6dc"/><stop offset="0.92" stop-color="#6c9cd6"/><stop offset="1" stop-color="#6494ce"/></linearGradient>
<linearGradient id="wg0_1" x1="0" y1="0" x2="0" y2="1"><stop offset="0" stop-color="#9cc8ea"/><stop offset="0.232" stop-color="#94c2e8"/><stop offset="0.418" stop-color="#88b8e4"/><stop offset="0.558" stop-color="#80b0e0"/><stop offset="0.725" stop-color="#76a6dc"/><stop offset="0.856" stop-color="#6c9cd6"/><stop offset="1" stop-color="#6494ce"/></linearGradient>
<linearGradient id="wg0_2" x1="0" y1="0" x2="0" y2="1"><stop offset="0" stop-color="#9cc8ea"/><stop offset="0.215" stop-color="#94c2e8"/><stop offset="0.387" stop-color="#88b8e4"/><stop offset="0.516" stop-color="#80b0e0"/><stop offset="0.671" stop-color="#76a6dc"/><stop offset="0.791" stop-color="#6c9cd6"/><stop offset="1" stop-color="#6494ce"/></linearGradient>
<linearGradient id="wg1_0" x1="0" y1="0" x2="0" y2="1"><stop offset="0" stop-color="#a3cbe9"/><stop offset="0.25" stop-color="#9bc6e9"/><stop offset="0.45" stop-color="#8ebce5"/><stop offset="0.6" stop-color="#85b3e1"/><stop offset="0.78" stop-color="#79a9dd"/><stop offset="0.92" stop-color="#6e9ed7"/><stop offset="1" stop-color="#6595cf"/></linearGradient>
<linearGradient id="wg1_1" x1="0" y1="0" x2="0" y2="1"><stop offset="0" stop-color="#a3cbe9"/><stop offset="0.232" stop-color="#9bc6e9"/><stop offset="0.418" stop-color="#8ebce5"/><stop offset="0.558" stop-color="#85b3e1"/><stop offset="0.725" stop-color="#79a9dd"/><stop offset="0.856" stop-color="#6e9ed7"/><stop offset="1" stop-color="#6595cf"/></linearGradient>
<linearGradient id="wg1_2" x1="0" y1="0" x2="0" y2="1"><stop offset="0" stop-color="#a3cbe9"/><stop offset="0.215" stop-color="#9bc6e9"/><stop offset="0.387" stop-color="#8ebce5"/><stop offset="0.516" stop-color="#85b3e1"/><stop offset="0.671" stop-color="#79a9dd"/><stop offset="0.791" stop-color="#6e9ed7"/><stop offset="1" stop-color="#6595cf"/></linearGradient>
<linearGradient id="wg2_0" x1="0" y1="0" x2="0" y2="1"><stop offset="0" stop-color="#aacee9"/><stop offset="0.25" stop-color="#a2cae9"/><stop offset="0.45" stop-color="#95c0e6"/><stop offset="0.6" stop-color="#8ab7e2"/><stop offset="0.78" stop-color="#7cabde"/><stop offset="0.92" stop-color="#70a0d8"/><stop offset="1" stop-color="#6696cf"/></linearGradient>
<linearGradient id="wg2_1" x1="0" y1="0" x2="0" y2="1"><stop offset="0" stop-color="#aacee9"/><stop offset="0.232" stop-color="#a2cae9"/><stop offset="0.418" stop-color="#95c0e6"/><stop offset="0.558" stop-color="#8ab7e2"/><stop offset="0.725" stop-color="#7cabde"/><stop offset="0.856" stop-color="#70a0d8"/><stop offset="1" stop-color="#6696cf"/></linearGradient>
<linearGradient id="wg2_2" x1="0" y1="0" x2="0" y2="1"><stop offset="0" stop-color="#aacee9"/><stop offset="0.215" stop-color="#a2cae9"/><stop offset="0.387" stop-color="#95c0e6"/><stop offset="0.516" stop-color="#8ab7e2"/><stop offset="0.671" stop-color="#7cabde"/><stop offset="0.791" stop-color="#70a0d8"/><stop offset="1" stop-color="#6696cf"/></linearGradient>
<linearGradient id="wg3_0" x1="0" y1="0" x2="0" y2="1"><stop offset="0" stop-color="#b0d2e8"/><stop offset="0.25" stop-color="#a8cdea"/><stop offset="0.45" stop-color="#9bc4e8"/><stop offset="0.6" stop-color="#8ebae4"/><stop offset="0.78" stop-color="#7faedf"/><stop offset="0.92" stop-color="#72a2d8"/><stop offset="1" stop-color="#6797d0"/></linearGradient>
<linearGradient id="wg3_1" x1="0" y1="0" x2="0" y2="1"><stop offset="0" stop-color="#b0d2e8"/><stop offset="0.232" stop-color="#a8cdea"/><stop offset="0.418" stop-color="#9bc4e8"/><stop offset="0.558" stop-color="#8ebae4"/><stop offset="0.725" stop-color="#7faedf"/><stop offset="0.856" stop-color="#72a2d8"/><stop offset="1" stop-color="#6797d0"/></linearGradient>
<linearGradient id="wg3_2" x1="0" y1="0" x2="0" y2="1"><stop offset="0" stop-color="#b0d2e8"/><stop offset="0.215" stop-color="#a8cdea"/><stop offset="0.387" stop-color="#9bc4e8"/><stop offset="0.516" stop-color="#8ebae4"/><stop offset="0.671" stop-color="#7faedf"/><stop offset="0.791" stop-color="#72a2d8"/><stop offset="1" stop-color="#6797d0"/></linearGradient>
<linearGradient id="wg4_0" x1="0" y1="0" x2="0" y2="1"><stop offset="0" stop-color="#b7d5e8"/><stop offset="0.25" stop-color="#afd1ea"/><stop offset="0.45" stop-color="#a2c8e9"/><stop offset="0.6" stop-color="#93bde5"/><stop offset="0.78" stop-color="#82b0e0"/><stop offset="0.92" stop-color="#74a4d9"/><stop offset="1" stop-color="#6898d0"/></linearGradient>
<linearGradient id="wg4_1" x1="0" y1="0" x2="0" y2="1"><stop offset="0" stop-color="#b7d5e8"/><stop offset="0.232" stop-color="#afd1ea"/><stop offset="0.418" stop-color="#a2c8e9"/><stop offset="0.558" stop-color="#93bde5"/><stop offset="0.725" stop-color="#82b0e0"/><stop offset="0.856" stop-color="#74a4d9"/><stop offset="1" stop-color="#6898d0"/></linearGradient>
<linearGradient id="wg4_2" x1="0" y1="0" x2="0" y2="1"><stop offset="0" stop-color="#b7d5e8"/><stop offset="0.215" stop-color="#afd1ea"/><stop offset="0.387" stop-color="#a2c8e9"/><stop offset="0.516" stop-color="#93bde5"/><stop offset="0.671" stop-color="#82b0e0"/><stop offset="0.791" stop-color="#74a4d9"/><stop offset="1" stop-color="#6898d0"/></linearGradient>
<linearGradient id="wg5_0" x1="0" y1="0" x2="0" y2="1"><stop offset="0" stop-color="#bed8e7"/><stop offset="0.25" stop-color="#b6d5eb"/><stop offset="0.45" stop-color="#a8ccea"/><stop offset="0.6" stop-color="#98c1e6"/><stop offset="0.78" stop-color="#85b3e1"/><stop offset="0.92" stop-color="#76a6da"/><stop offset="1" stop-color="#6999d1"/></linearGradient>
<linearGradient id="wg5_1" x1="0" y1="0" x2="0" y2="1"><stop offset="0" stop-color="#bed8e7"/><stop offset="0.232" stop-color="#b6d5eb"/><stop offset="0.418" stop-color="#a8ccea"/><stop offset="0.558" stop-color="#98c1e6"/><stop offset="0.725" stop-color="#85b3e1"/><stop offset="0.856" stop-color="#76a6da"/><stop offset="1" stop-color="#6999d1"/></linearGradient>
<linearGradient id="wg5_2" x1="0" y1="0" x2="0" y2="1"><stop offset="0" stop-color="#bed8e7"/><stop offset="0.215" stop-color="#b6d5eb"/><stop offset="0.387" stop-color="#a8ccea"/><stop offset="0.516" stop-color="#98c1e6"/><stop offset="0.671" stop-color="#85b3e1"/><stop offset="0.791" stop-color="#76a6da"/><stop offset="1" stop-color="#6999d1"/></linearGradient>
<linearGradient id="wg6_0" x1="0" y1="0" x2="0" y2="1"><stop offset="0" stop-color="#c5dbe6"/><stop offset="0.25" stop-color="#bdd9eb"/><stop offset="0.45" stop-color="#afd0eb"/><stop offset="0.6" stop-color="#9dc4e7"/><stop offset="0.78" stop-color="#88b5e2"/><stop offset="0.92" stop-color="#78a8db"/><stop offset="1" stop-color="#6a9ad2"/></linearGradient>
<linearGradient id="wg6_1" x1="0" y1="0" x2="0" y2="1"><stop offset="0" stop-color="#c5dbe6"/><stop offset="0.232" stop-color="#bdd9eb"/><stop offset="0.418" stop-color="#afd0eb"/><stop offset="0.558" stop-color="#9dc4e7"/><stop offset="0.725" stop-color="#88b5e2"/><stop offset="0.856" stop-color="#78a8db"/><stop offset="1" stop-color="#6a9ad2"/></linearGradient>
<linearGradient id="wg6_2" x1="0" y1="0" x2="0" y2="1"><stop offset="0" stop-color="#c5dbe6"/><stop offset="0.215" stop-color="#bdd9eb"/><stop offset="0.387" stop-color="#afd0eb"/><stop offset="0.516" stop-color="#9dc4e7"/><stop offset="0.671" stop-color="#88b5e2"/><stop offset="0.791" stop-color="#78a8db"/><stop offset="1" stop-color="#6a9ad2"/></linearGradient>
<linearGradient id="wg7_0" x1="0" y1="0" x2="0" y2="1"><stop offset="0" stop-color="#cbdfe6"/><stop offset="0.25" stop-color="#c3dcec"/><stop offset="0.45" stop-color="#b5d4ed"/><stop offset="0.6" stop-color="#a1c7e9"/><stop offset="0.78" stop-color="#8cb8e2"/><stop offset="0.92" stop-color="#7aa9db"/><stop offset="1" stop-color="#6a9ad2"/></linearGradient>
<linearGradient id="wg7_1" x1="0" y1="0" x2="0" y2="1"><stop offset="0" stop-color="#cbdfe6"/><stop offset="0.232" stop-color="#c3dcec"/><stop offset="0.418" stop-color="#b5d4ed"/><stop offset="0.558" stop-color="#a1c7e9"/><stop offset="0.725" stop-color="#8cb8e2"/><stop offset="0.856" stop-color="#7aa9db"/><stop offset="1" stop-color="#6a9ad2"/></linearGradient>
<linearGradient id="wg7_2" x1="0" y1="0" x2="0" y2="1"><stop offset="0" stop-color="#cbdfe6"/><stop offset="0.215" stop-color="#c3dcec"/><stop offset="0.387" stop-color="#b5d4ed"/><stop offset="0.516" stop-color="#a1c7e9"/><stop offset="0.671" stop-color="#8cb8e2"/><stop offset="0.791" stop-color="#7aa9db"/><stop offset="1" stop-color="#6a9ad2"/></linearGradient>
<linearGradient id="wg8_0" x1="0" y1="0" x2="0" y2="1"><stop offset="0" stop-color="#d2e2e5"/><stop offset="0.25" stop-color="#cae0ec"/><stop offset="0.45" stop-color="#bcd8ee"/><stop offset="0.6" stop-color="#a6caea"/><stop offset="0.78" stop-color="#8fbae3"/><stop offset="0.92" stop-color="#7cabdc"/><stop offset="1" stop-color="#6b9bd3"/></linearGradient>
<linearGradient id="wg8_1" x1="0" y1="0" x2="0" y2="1"><stop offset="0" stop-color="#d2e2e5"/><stop offset="0.232" stop-color="#cae0ec"/><stop offset="0.418" stop-color="#bcd8ee"/><stop offset="0.558" stop-color="#a6caea"/><stop offset="0.725" stop-color="#8fbae3"/><stop offset="0.856" stop-color="#7cabdc"/><stop offset="1" stop-color="#6b9bd3"/></linearGradient>
<linearGradient id="wg8_2" x1="0" y1="0" x2="0" y2="1"><stop offset="0" stop-color="#d2e2e5"/><stop offset="0.215" stop-color="#cae0ec"/><stop offset="0.387" stop-color="#bcd8ee"/><stop offset="0.516" stop-color="#a6caea"/><stop offset="0.671" stop-color="#8fbae3"/><stop offset="0.791" stop-color="#7cabdc"/><stop offset="1" stop-color="#6b9bd3"/></linearGradient>
<linearGradient id="wg9_0" x1="0" y1="0" x2="0" y2="1"><stop offset="0" stop-color="#d9e5e4"/><stop offset="0.25" stop-color="#d1e4ed"/><stop offset="0.45" stop-color="#c2dcef"/><stop offset="0.6" stop-color="#abceeb"/><stop offset="0.78" stop-color="#92bde4"/><stop offset="0.92" stop-color="#7eaddd"/><stop offset="1" stop-color="#6c9cd4"/></linearGradient>
<linearGradient id="wg9_1" x1="0" y1="0" x2="0" y2="1"><stop offset="0" stop-color="#d9e5e4"/><stop offset="0.232" stop-color="#d1e4ed"/><stop offset="0.418" stop-color="#c2dcef"/><stop offset="0.558" stop-color="#abceeb"/><stop offset="0.725" stop-color="#92bde4"/><stop offset="0.856" stop-color="#7eaddd"/><stop offset="1" stop-color="#6c9cd4"/></linearGradient>
<linearGradient id="wg9_2" x1="0" y1="0" x2="0" y2="1"><stop offset="0" stop-color="#d9e5e4"/><stop offset="0.215" stop-color="#d1e4ed"/><stop offset="0.387" stop-color="#c2dcef"/><stop offset="0.516" stop-color="#abceeb"/><stop offset="0.671" stop-color="#92bde4"/><stop offset="0.791" stop-color="#7eaddd"/><stop offset="1" stop-color="#6c9cd4"/></linearGradient>
<linearGradient id="wg10_0" x1="0" y1="0" x2="0" y2="1"><stop offset="0" stop-color="#e0e8e4"/><stop offset="0.25" stop-color="#d8e8ed"/><stop offset="0.45" stop-color="#c9e0f0"/><stop offset="0.6" stop-color="#b0d1ec"/><stop offset="0.78" stop-color="#95bfe5"/><stop offset="0.92" stop-color="#80afde"/><stop offset="1" stop-color="#6d9dd4"/></linearGradient>
<linearGradient id="wg10_1" x1="0" y1="0" x2="0" y2="1"><stop offset="0" stop-color="#e0e8e4"/><stop offset="0.232" stop-color="#d8e8ed"/><stop offset="0.418" stop-color="#c9e0f0"/><stop offset="0.558" stop-color="#b0d1ec"/><stop offset="0.725" stop-color="#95bfe5"/><stop offset="0.856" stop-color="#80afde"/><stop offset="1" stop-color="#6d9dd4"/></linearGradient>
<linearGradient id="wg10_2" x1="0" y1="0" x2="0" y2="1"><stop offset="0" stop-color="#e0e8e4"/><stop offset="0.215" stop-color="#d8e8ed"/><stop offset="0.387" stop-color="#c9e0f0"/><stop offset="0.516" stop-color="#b0d1ec"/><stop offset="0.671" stop-color="#95bfe5"/><stop offset="0.791" stop-color="#80afde"/><stop offset="1" stop-color="#6d9dd4"/></linearGradient>
<linearGradient id="wg11_0" x1="0" y1="0" x2="0" y2="1"><stop offset="0" stop-color="#e6ece3"/><stop offset="0.25" stop-color="#deebee"/><stop offset="0.45" stop-color="#cfe4f2"/><stop offset="0.6" stop-color="#b4d4ee"/><stop offset="0.78" stop-color="#98c2e6"/><stop offset="0.92" stop-color="#82b1de"/><stop offset="1" stop-color="#6e9ed5"/></linearGradient>
<linearGradient id="wg11_1" x1="0" y1="0" x2="0" y2="1"><stop offset="0" stop-color="#e6ece3"/><stop offset="0.232" stop-color="#deebee"/><stop offset="0.418" stop-color="#cfe4f2"/><stop offset="0.558" stop-color="#b4d4ee"/><stop offset="0.725" stop-color="#98c2e6"/><stop offset="0.856" stop-color="#82b1de"/><stop offset="1" stop-color="#6e9ed5"/></linearGradient>
<linearGradient id="wg11_2" x1="0" y1="0" x2="0" y2="1"><stop offset="0" stop-color="#e6ece3"/><stop offset="0.215" stop-color="#deebee"/><stop offset="0.387" stop-color="#cfe4f2"/><stop offset="0.516" stop-color="#b4d4ee"/><stop offset="0.671" stop-color="#98c2e6"/><stop offset="0.791" stop-color="#82b1de"/><stop offset="1" stop-color="#6e9ed5"/></linearGradient>
<linearGradient id="wg12_0" x1="0" y1="0" x2="0" y2="1"><stop offset="0" stop-color="#edefe3"/><stop offset="0.25" stop-color="#e5efee"/><stop offset="0.45" stop-color="#d6e8f3"/><stop offset="0.6" stop-color="#b9d8ef"/><stop offset="0.78" stop-color="#9bc4e7"/><stop offset="0.92" stop-color="#84b3df"/><stop offset="1" stop-color="#6f9fd5"/></linearGradient>
<linearGradient id="wg12_1" x1="0" y1="0" x2="0" y2="1"><stop offset="0" stop-color="#edefe3"/><stop offset="0.232" stop-color="#e5efee"/><stop offset="0.418" stop-color="#d6e8f3"/><stop offset="0.558" stop-color="#b9d8ef"/><stop offset="0.725" stop-color="#9bc4e7"/><stop offset="0.856" stop-color="#84b3df"/><stop offset="1" stop-color="#6f9fd5"/></linearGradient>
<linearGradient id="wg12_2" x1="0" y1="0" x2="0" y2="1"><stop offset="0" stop-color="#edefe3"/><stop offset="0.215" stop-color="#e5efee"/><stop offset="0.387" stop-color="#d6e8f3"/><stop offset="0.516" stop-color="#b9d8ef"/><stop offset="0.671" stop-color="#9bc4e7"/><stop offset="0.791" stop-color="#84b3df"/><stop offset="1" stop-color="#6f9fd5"/></linearGradient>
<linearGradient id="wg13_0" x1="0" y1="0" x2="0" y2="1"><stop offset="0" stop-color="#f4f2e2"/><stop offset="0.25" stop-color="#ecf3ef"/><stop offset="0.45" stop-color="#dcecf4"/><stop offset="0.6" stop-color="#bedbf0"/><stop offset="0.78" stop-color="#9ec7e8"/><stop offset="0.92" stop-color="#86b5e0"/><stop offset="1" stop-color="#70a0d6"/></linearGradient>
<linearGradient id="wg13_1" x1="0" y1="0" x2="0" y2="1"><stop offset="0" stop-color="#f4f2e2"/><stop offset="0.232" stop-color="#ecf3ef"/><stop offset="0.418" stop-color="#dcecf4"/><stop offset="0.558" stop-color="#bedbf0"/><stop offset="0.725" stop-color="#9ec7e8"/><stop offset="0.856" stop-color="#86b5e0"/><stop offset="1" stop-color="#70a0d6"/></linearGradient>
<linearGradient id="wg13_2" x1="0" y1="0" x2="0" y2="1"><stop offset="0" stop-color="#f4f2e2"/><stop offset="0.215" stop-color="#ecf3ef"/><stop offset="0.387" stop-color="#dcecf4"/><stop offset="0.516" stop-color="#bedbf0"/><stop offset="0.671" stop-color="#9ec7e8"/><stop offset="0.791" stop-color="#86b5e0"/><stop offset="1" stop-color="#70a0d6"/></linearGradient>
</defs>
<g shape-rendering="crispEdges">
<rect x="547" y="420.0" width="1" height="2.8" fill="url(#wg1_1)"/>
<rect x="548" y="417.7" width="1" height="6.4" fill="url(#wg1_1)"/>
<rect x="549" y="416.7" width="1" height="9.1" fill="url(#wg1_1)"/>
<rect x="550" y="413.3" width="1" height="14.1" fill="url(#wg1_1)"/>
<rect x="551" y="412.1" width="1" height="16.4" fill="url(#wg1_1)"/>
<rect x="552" y="411.9" width="1" height="13.3" fill="url(#wg1_0)"/>
<rect x="553" y="409.5" width="1" height="11.3" fill="url(#wg1_0)"/>
<rect x="554" y="408.8" width="1" height="18.5" fill="url(#wg1_0)"/>
<rect x="555" y="408.2" width="1" height="20.6" fill="url(#wg1_0)"/>
<rect x="556" y="407.6" width="1" height="23.4" fill="url(#wg1_0)"/>
<rect x="557" y="407.8" width="1" height="23.1" fill="url(#wg1_0)"/>
<rect x="558" y="407.0" width="1" height="20.9" fill="url(#wg1_1)"/>
<rect x="559" y="406.1" width="1" height="20.9" fill="url(#wg1_1)"/>
<rect x="560" y="405.9" width="1" height="23.9" fill="url(#wg1_1)"/>
<rect x="561" y="405.7" width="1" height="23.4" fill="url(#wg1_1)"/>
<rect x="562" y="409.2" width="1" height="19.3" fill="url(#wg1_1)"/>
<rect x="563" y="406.7" width="1" height="17.4" fill="url(#wg1_1)"/>
<rect x="564" y="404.9" width="1" height="21.0" fill="url(#wg1_0)"/>
<rect x="565" y="404.4" width="1" height="22.9" fill="url(#wg2_0)"/>
<rect x="566" y="403.3" width="1" height="24.4" fill="url(#wg2_0)"/>
<rect x="567" y="382.3" width="1" height="44.7" fill="url(#wg4_0)"/>
<rect x="568" y="372.8" width="1" height="50.7" fill="url(#wg6_0)"/>
<rect x="569" y="371.2" width="1" height="53.6" fill="url(#wg8_0)"/>
<rect x="570" y="369.6" width="1" height="55.5" fill="url(#wg8_1)"/>
<rect x="571" y="368.4" width="1" height="56.2" fill="url(#wg8_1)"/>
<rect x="572" y="366.4" width="1" height="61.2" fill="url(#wg8_1)"/>
<rect x="573" y="364.4" width="1" height="63.1" fill="url(#wg8_1)"/>
<rect x="574" y="360.0" width="1" height="64.5" fill="url(#wg8_1)"/>
<rect x="575" y="356.8" width="1" height="68.7" fill="url(#wg8_0)"/>
<rect x="576" y="356.0" width="1" height="67.0" fill="url(#wg8_0)"/>
<rect x="577" y="355.5" width="1" height="68.7" fill="url(#wg8_1)"/>
<rect x="578" y="355.0" width="1" height="69.5" fill="url(#wg9_1)"/>
<rect x="579" y="353.8" width="1" height="69.7" fill="url(#wg9_1)"/>
<rect x="580" y="352.4" width="1" height="70.8" fill="url(#wg9_1)"/>
<rect x="581" y="351.5" width="1" height="72.9" fill="url(#wg9_1)"/>
<rect x="582" y="349.2" width="1" height="71.5" fill="url(#wg9_1)"/>
<rect x="583" y="350.8" width="1" height="74.0" fill="url(#wg9_0)"/>
<rect x="584" y="350.0" width="1" height="76.2" fill="url(#wg9_0)"/>
<rect x="585" y="347.4" width="1" height="79.2" fill="url(#wg9_0)"/>
<rect x="586" y="346.4" width="1" height="80.1" fill="url(#wg9_1)"/>
<rect x="587" y="345.6" width="1" height="81.1" fill="url(#wg9_1)"/>
<rect x="588" y="345.0" width="1" height="82.6" fill="url(#wg9_0)"/>
<rect x="589" y="344.4" width="1" height="83.7" fill="url(#wg9_0)"/>
<rect x="590" y="343.8" width="1" height="84.6" fill="url(#wg10_0)"/>
<rect x="591" y="343.8" width="1" height="85.0" fill="url(#wg10_1)"/>
<rect x="592" y="343.8" width="1" height="85.4" fill="url(#wg10_1)"/>
<rect x="593" y="342.0" width="1" height="87.4" fill="url(#wg10_1)"/>
<rect x="594" y="343.0" width="1" height="86.4" fill="url(#wg10_1)"/>
<rect x="595" y="340.7" width="1" height="88.7" fill="url(#wg10_1)"/>
<rect x="596" y="339.7" width="1" height="89.7" fill="url(#wg10_1)"/>
<rect x="597" y="338.7" width="1" height="90.7" fill="url(#wg10_1)"/>
<rect x="598" y="337.8" width="1" height="91.6" fill="url(#wg10_1)"/>
<rect x="599" y="337.6" width="1" height="89.8" fill="url(#wg10_1)"/>
<rect x="600" y="338.2" width="1" height="90.2" fill="url(#wg10_1)"/>
<rect x="601" y="337.0" width="1" height="92.4" fill="url(#wg10_1)"/>
<rect x="602" y="334.7" width="1" height="93.1" fill="url(#wg10_1)"/>
<rect x="603" y="334.2" width="1" height="95.2" fill="url(#wg11_0)"/>
<rect x="604" y="335.2" width="1" height="94.2" fill="url(#wg11_0)"/>
<rect x="605" y="333.3" width="1" height="95.3" fill="url(#wg11_0)"/>
<rect x="606" y="335.3" width="1" height="94.1" fill="url(#wg11_0)"/>
<rect x="607" y="333.9" width="1" height="93.2" fill="url(#wg11_0)"/>
<rect x="608" y="332.9" width="1" height="95.0" fill="url(#wg11_1)"/>
<rect x="609" y="331.4" width="1" height="97.5" fill="url(#wg11_1)"/>
<rect x="610" y="331.2" width="1" height="97.5" fill="url(#wg11_1)"/>
<rect x="611" y="331.0" width="1" height="97.6" fill="url(#wg11_1)"/>
<rect x="612" y="330.0" width="1" height="98.4" fill="url(#wg11_0)"/>
<rect x="613" y="329.6" width="1" height="100.5" fill="url(#wg11_0)"/>
<rect x="614" y="329.1" width="1" height="101.6" fill="url(#wg11_0)"/>
<rect x="615" y="328.6" width="1" height="106.5" fill="url(#wg11_0)"/>
<rect x="616" y="328.1" width="1" height="112.6" fill="url(#wg11_0)"/>
<rect x="617" y="327.6" width="1" height="114.7" fill="url(#wg11_0)"/>
<rect x="618" y="327.1" width="1" height="116.2" fill="url(#wg11_2)"/>
<rect x="619" y="326.6" width="1" height="118.9" fill="url(#wg11_2)"/>
<rect x="620" y="326.1" width="1" height="121.1" fill="url(#wg11_2)"/>
<rect x="621" y="325.6" width="1" height="121.8" fill="url(#wg11_2)"/>
<rect x="622" y="325.1" width="1" height="125.5" fill="url(#wg11_0)"/>
<rect x="623" y="324.6" width="1" height="128.0" fill="url(#wg12_0)"/>
<rect x="624" y="324.1" width="1" height="128.7" fill="url(#wg12_0)"/>
<rect x="625" y="323.4" width="1" height="126.6" fill="url(#wg12_0)"/>
<rect x="626" y="322.8" width="1" height="124.5" fill="url(#wg12_0)"/>
<rect x="627" y="322.4" width="1" height="121.4" fill="url(#wg12_1)"/>
<rect x="628" y="321.6" width="1" height="122.3" fill="url(#wg12_1)"/>
<rect x="629" y="321.0" width="1" height="122.4" fill="url(#wg12_1)"/>
<rect x="630" y="320.4" width="1" height="121.6" fill="url(#wg12_1)"/>
<rect x="631" y="320.8" width="1" height="118.0" fill="url(#wg12_1)"/>
<rect x="632" y="319.9" width="1" height="114.0" fill="url(#wg12_1)"/>
<rect x="633" y="320.8" width="1" height="112.9" fill="url(#wg12_1)"/>
<rect x="634" y="318.8" width="1" height="116.5" fill="url(#wg12_1)"/>
<rect x="635" y="317.2" width="1" height="116.1" fill="url(#wg12_1)"/>
<rect x="636" y="317.8" width="1" height="112.5" fill="url(#wg12_1)"/>
<rect x="637" y="316.2" width="1" height="115.7" fill="url(#wg12_1)"/>
<rect x="638" y="317.9" width="1" height="112.3" fill="url(#wg12_1)"/>
<rect x="639" y="317.4" width="1" height="111.2" fill="url(#wg12_1)"/>
<rect x="640" y="316.5" width="1" height="110.4" fill="url(#wg12_1)"/>
<rect x="641" y="313.6" width="1" height="110.8" fill="url(#wg12_0)"/>
<rect x="642" y="315.3" width="1" height="107.5" fill="url(#wg12_0)"/>
<rect x="643" y="314.2" width="1" height="108.0" fill="url(#wg12_0)"/>
<rect x="644" y="315.0" width="1" height="107.5" fill="url(#wg12_0)"/>
<rect x="645" y="313.0" width="1" height="108.6" fill="url(#wg13_0)"/>
<rect x="646" y="311.5" width="1" height="107.1" fill="url(#wg13_0)"/>
<rect x="647" y="311.4" width="1" height="116.8" fill="url(#wg13_0)"/>
<rect x="648" y="310.3" width="1" height="123.0" fill="url(#wg13_0)"/>
<rect x="649" y="309.8" width="1" height="127.4" fill="url(#wg13_0)"/>
<rect x="650" y="309.4" width="1" height="131.8" fill="url(#wg13_0)"/>
<rect x="651" y="309.1" width="1" height="133.9" fill="url(#wg13_0)"/>
<rect x="652" y="308.7" width="1" height="133.7" fill="url(#wg13_0)"/>
<rect x="653" y="308.3" width="1" height="133.5" fill="url(#wg13_0)"/>
<rect x="654" y="309.3" width="1" height="132.0" fill="url(#wg13_0)"/>
<rect x="655" y="308.2" width="1" height="132.5" fill="url(#wg13_1)"/>
<rect x="656" y="307.8" width="1" height="127.5" fill="url(#wg13_1)"/>
<rect x="657" y="307.8" width="1" height="129.0" fill="url(#wg13_1)"/>
<rect x="658" y="307.4" width="1" height="126.6" fill="url(#wg13_1)"/>
<rect x="659" y="306.1" width="1" height="132.2" fill="url(#wg13_1)"/>
<rect x="660" y="305.6" width="1" height="130.0" fill="url(#wg13_0)"/>
<rect x="661" y="305.2" width="1" height="130.3" fill="url(#wg13_0)"/>
<rect x="662" y="304.8" width="1" height="132.3" fill="url(#wg13_0)"/>
<rect x="663" y="304.3" width="1" height="132.7" fill="url(#wg13_0)"/>
<rect x="664" y="303.9" width="1" height="132.5" fill="url(#wg13_0)"/>
<rect x="665" y="303.4" width="1" height="129.9" fill="url(#wg13_0)"/>
<rect x="666" y="303.0" width="1" height="129.8" fill="url(#wg13_0)"/>
<rect x="667" y="302.6" width="1" height="128.7" fill="url(#wg13_0)"/>
<rect x="668" y="302.8" width="1" height="131.6" fill="url(#wg13_0)"/>
<rect x="669" y="302.9" width="1" height="130.5" fill="url(#wg13_0)"/>
<rect x="670" y="302.9" width="1" height="129.5" fill="url(#wg13_0)"/>
<rect x="671" y="300.8" width="1" height="129.6" fill="url(#wg13_1)"/>
<rect x="672" y="303.3" width="1" height="128.9" fill="url(#wg13_1)"/>
<rect x="673" y="302.7" width="1" height="129.5" fill="url(#wg13_1)"/>
<rect x="674" y="299.6" width="1" height="134.7" fill="url(#wg13_1)"/>
<rect x="675" y="299.2" width="1" height="137.8" fill="url(#wg13_1)"/>
<rect x="676" y="299.1" width="1" height="142.3" fill="url(#wg13_1)"/>
<rect x="677" y="298.9" width="1" height="139.0" fill="url(#wg13_1)"/>
<rect x="678" y="301.4" width="1" height="141.7" fill="url(#wg13_1)"/>
<rect x="679" y="301.0" width="1" height="142.3" fill="url(#wg13_1)"/>
<rect x="680" y="301.3" width="1" height="141.9" fill="url(#wg13_1)"/>
<rect x="681" y="302.0" width="1" height="145.3" fill="url(#wg13_1)"/>
<rect x="682" y="301.9" width="1" height="144.2" fill="url(#wg13_0)"/>
<rect x="683" y="302.3" width="1" height="144.3" fill="url(#wg13_0)"/>
<rect x="684" y="303.8" width="1" height="144.4" fill="url(#wg13_0)"/>
<rect x="685" y="303.2" width="1" height="144.8" fill="url(#wg13_0)"/>
<rect x="686" y="302.1" width="1" height="146.1" fill="url(#wg13_0)"/>
<rect x="687" y="301.7" width="1" height="146.5" fill="url(#wg13_1)"/>
<rect x="688" y="301.6" width="1" height="145.7" fill="url(#wg13_1)"/>
<rect x="689" y="302.7" width="1" height="144.3" fill="url(#wg13_1)"/>
<rect x="690" y="303.8" width="1" height="143.8" fill="url(#wg13_1)"/>
<rect x="691" y="301.1" width="1" height="145.9" fill="url(#wg13_1)"/>
<rect x="692" y="302.3" width="1" height="143.7" fill="url(#wg13_1)"/>
<rect x="693" y="304.7" width="1" height="141.4" fill="url(#wg13_2)"/>
<rect x="694" y="306.8" width="1" height="138.8" fill="url(#wg13_2)"/>
<rect x="695" y="307.7" width="1" height="137.4" fill="url(#wg13_2)"/>
<rect x="696" y="309.4" width="1" height="135.2" fill="url(#wg13_0)"/>
<rect x="697" y="310.0" width="1" height="133.7" fill="url(#wg13_0)"/>
<rect x="698" y="310.3" width="1" height="133.3" fill="url(#wg13_0)"/>
<rect x="699" y="310.6" width="1" height="130.1" fill="url(#wg13_0)"/>
<rect x="700" y="311.0" width="1" height="129.5" fill="url(#wg13_0)"/>
<rect x="701" y="311.6" width="1" height="128.8" fill="url(#wg13_0)"/>
<rect x="702" y="311.6" width="1" height="127.4" fill="url(#wg13_1)"/>
<rect x="703" y="313.3" width="1" height="127.6" fill="url(#wg13_1)"/>
<rect x="704" y="315.1" width="1" height="128.1" fill="url(#wg13_1)"/>
<rect x="705" y="312.4" width="1" height="126.4" fill="url(#wg13_1)"/>
<rect x="706" y="312.5" width="1" height="129.5" fill="url(#wg13_1)"/>
<rect x="707" y="312.7" width="1" height="127.8" fill="url(#wg13_1)"/>
<rect x="708" y="312.7" width="1" height="130.5" fill="url(#wg13_1)"/>
<rect x="709" y="312.8" width="1" height="128.9" fill="url(#wg13_1)"/>
<rect x="710" y="313.0" width="1" height="126.1" fill="url(#wg13_1)"/>
<rect x="711" y="313.1" width="1" height="126.6" fill="url(#wg13_1)"/>
<rect x="712" y="313.2" width="1" height="126.7" fill="url(#wg13_2)"/>
<rect x="713" y="313.3" width="1" height="124.7" fill="url(#wg13_2)"/>
<rect x="714" y="314.2" width="1" height="125.3" fill="url(#wg13_1)"/>
<rect x="715" y="316.3" width="1" height="126.2" fill="url(#wg13_1)"/>
<rect x="716" y="318.4" width="1" height="127.1" fill="url(#wg13_0)"/>
<rect x="717" y="318.7" width="1" height="129.8" fill="url(#wg13_0)"/>
<rect x="718" y="319.0" width="1" height="132.4" fill="url(#wg13_0)"/>
<rect x="719" y="319.4" width="1" height="132.4" fill="url(#wg13_0)"/>
<rect x="720" y="319.7" width="1" height="133.0" fill="url(#wg13_0)"/>
<rect x="721" y="320.0" width="1" height="131.0" fill="url(#wg13_0)"/>
<rect x="722" y="322.3" width="1" height="130.8" fill="url(#wg13_0)"/>
<rect x="723" y="321.0" width="1" height="131.7" fill="url(#wg13_0)"/>
<rect x="724" y="322.6" width="1" height="130.0" fill="url(#wg13_0)"/>
<rect x="725" y="321.2" width="1" height="131.7" fill="url(#wg13_1)"/>
<rect x="726" y="319.1" width="1" height="133.5" fill="url(#wg13_1)"/>
<rect x="727" y="319.6" width="1" height="133.5" fill="url(#wg13_1)"/>
<rect x="728" y="318.3" width="1" height="134.7" fill="url(#wg13_1)"/>
<rect x="729" y="317.1" width="1" height="136.4" fill="url(#wg13_1)"/>
<rect x="730" y="316.5" width="1" height="137.7" fill="url(#wg13_1)"/>
<rect x="731" y="315.9" width="1" height="138.9" fill="url(#wg13_2)"/>
<rect x="732" y="316.1" width="1" height="139.4" fill="url(#wg13_2)"/>
<rect x="733" y="316.2" width="1" height="136.4" fill="url(#wg13_2)"/>
<rect x="734" y="316.3" width="1" height="140.5" fill="url(#wg13_1)"/>
<rect x="735" y="316.5" width="1" height="141.0" fill="url(#wg13_1)"/>
<rect x="736" y="317.2" width="1" height="140.4" fill="url(#wg13_1)"/>
<rect x="737" y="318.9" width="1" height="138.3" fill="url(#wg13_2)"/>
<rect x="738" y="319.2" width="1" height="135.1" fill="url(#wg13_2)"/>
<rect x="739" y="318.2" width="1" height="135.4" fill="url(#wg13_1)"/>
<rect x="740" y="318.0" width="1" height="137.3" fill="url(#wg13_1)"/>
<rect x="741" y="318.3" width="1" height="136.2" fill="url(#wg13_1)"/>
<rect x="742" y="316.8" width="1" height="137.2" fill="url(#wg13_1)"/>
<rect x="743" y="317.6" width="1" height="135.2" fill="url(#wg13_1)"/>
<rect x="744" y="317.4" width="1" height="135.3" fill="url(#wg13_0)"/>
<rect x="745" y="317.5" width="1" height="133.6" fill="url(#wg13_0)"/>
<rect x="746" y="316.4" width="1" height="129.0" fill="url(#wg13_0)"/>
<rect x="747" y="315.0" width="1" height="131.1" fill="url(#wg13_0)"/>
<rect x="748" y="314.8" width="1" height="130.4" fill="url(#wg13_0)"/>
<rect x="749" y="314.7" width="1" height="134.7" fill="url(#wg13_0)"/>
<rect x="750" y="314.5" width="1" height="138.9" fill="url(#wg13_1)"/>
<rect x="751" y="314.5" width="1" height="142.9" fill="url(#wg13_1)"/>
<rect x="752" y="314.5" width="1" height="146.3" fill="url(#wg13_1)"/>
<rect x="753" y="314.9" width="1" height="149.4" fill="url(#wg13_1)"/>
<rect x="754" y="314.5" width="1" height="150.6" fill="url(#wg13_1)"/>
<rect x="755" y="315.2" width="1" height="151.8" fill="url(#wg13_1)"/>
<rect x="756" y="315.3" width="1" height="152.7" fill="url(#wg13_1)"/>
<rect x="757" y="316.4" width="1" height="153.3" fill="url(#wg13_1)"/>
<rect x="758" y="318.6" width="1" height="150.6" fill="url(#wg13_1)"/>
<rect x="759" y="320.1" width="1" height="149.1" fill="url(#wg13_1)"/>
<rect x="760" y="323.0" width="1" height="148.5" fill="url(#wg13_1)"/>
<rect x="761" y="322.7" width="1" height="150.7" fill="url(#wg13_1)"/>
<rect x="762" y="322.0" width="1" height="154.5" fill="url(#wg13_1)"/>
<rect x="763" y="322.4" width="1" height="155.3" fill="url(#wg13_1)"/>
<rect x="764" y="322.3" width="1" height="152.5" fill="url(#wg13_1)"/>
<rect x="765" y="321.7" width="1" height="153.8" fill="url(#wg13_1)"/>
<rect x="766" y="321.7" width="1" height="154.4" fill="url(#wg13_1)"/>
<rect x="767" y="322.9" width="1" height="151.8" fill="url(#wg13_1)"/>
<rect x="768" y="322.7" width="1" height="149.9" fill="url(#wg13_1)"/>
<rect x="769" y="321.7" width="1" height="148.4" fill="url(#wg13_2)"/>
<rect x="770" y="321.7" width="1" height="146.1" fill="url(#wg13_2)"/>
<rect x="771" y="321.7" width="1" height="144.1" fill="url(#wg13_2)"/>
<rect x="772" y="321.8" width="1" height="145.9" fill="url(#wg13_2)"/>
<rect x="773" y="321.9" width="1" height="149.1" fill="url(#wg13_2)"/>
<rect x="774" y="322.3" width="1" height="143.0" fill="url(#wg13_0)"/>
<rect x="775" y="322.4" width="1" height="145.9" fill="url(#wg13_0)"/>
<rect x="776" y="322.4" width="1" height="146.4" fill="url(#wg13_0)"/>
<rect x="777" y="323.5" width="1" height="140.3" fill="url(#wg13_0)"/>
<rect x="778" y="323.7" width="1" height="143.6" fill="url(#wg13_0)"/>
<rect x="779" y="322.5" width="1" height="144.0" fill="url(#wg13_1)"/>
<rect x="780" y="322.6" width="1" height="143.2" fill="url(#wg13_1)"/>
<rect x="781" y="324.2" width="1" height="140.9" fill="url(#wg13_1)"/>
<rect x="782" y="323.6" width="1" height="140.7" fill="url(#wg13_1)"/>
<rect x="783" y="324.1" width="1" height="139.1" fill="url(#wg13_1)"/>
<rect x="784" y="327.3" width="1" height="132.0" fill="url(#wg13_1)"/>
<rect x="785" y="326.9" width="1" height="127.7" fill="url(#wg13_1)"/>
<rect x="786" y="329.7" width="1" height="117.6" fill="url(#wg13_1)"/>
<rect x="787" y="330.4" width="1" height="118.8" fill="url(#wg13_1)"/>
<rect x="788" y="331.2" width="1" height="119.0" fill="url(#wg13_0)"/>
<rect x="789" y="331.2" width="1" height="120.0" fill="url(#wg13_0)"/>
<rect x="790" y="331.1" width="1" height="117.7" fill="url(#wg13_0)"/>
<rect x="791" y="330.9" width="1" height="111.8" fill="url(#wg13_0)"/>
<rect x="792" y="330.9" width="1" height="105.9" fill="url(#wg13_0)"/>
<rect x="793" y="330.8" width="1" height="99.6" fill="url(#wg13_0)"/>
<rect x="794" y="331.3" width="1" height="93.1" fill="url(#wg13_0)"/>
<rect x="795" y="331.8" width="1" height="88.2" fill="url(#wg13_0)"/>
<rect x="796" y="330.5" width="1" height="88.8" fill="url(#wg13_1)"/>
<rect x="797" y="330.4" width="1" height="85.6" fill="url(#wg13_1)"/>
<rect x="798" y="330.2" width="1" height="78.6" fill="url(#wg13_1)"/>
<rect x="799" y="330.2" width="1" height="81.3" fill="url(#wg13_1)"/>
<rect x="800" y="331.4" width="1" height="76.8" fill="url(#wg13_2)"/>
<rect x="801" y="330.1" width="1" height="79.1" fill="url(#wg13_2)"/>
<rect x="802" y="330.1" width="1" height="83.1" fill="url(#wg13_2)"/>
<rect x="803" y="330.1" width="1" height="82.6" fill="url(#wg13_2)"/>
<rect x="804" y="330.5" width="1" height="81.7" fill="url(#wg13_2)"/>
<rect x="805" y="330.1" width="1" height="79.1" fill="url(#wg13_2)"/>
<rect x="806" y="330.1" width="1" height="80.7" fill="url(#wg13_0)"/>
<rect x="807" y="330.1" width="1" height="78.3" fill="url(#wg13_0)"/>
<rect x="808" y="330.1" width="1" height="77.9" fill="url(#wg13_0)"/>
<rect x="809" y="332.2" width="1" height="76.6" fill="url(#wg13_0)"/>
<rect x="810" y="330.3" width="1" height="76.6" fill="url(#wg13_0)"/>
<rect x="811" y="333.3" width="1" height="72.8" fill="url(#wg13_0)"/>
<rect x="812" y="330.8" width="1" height="75.9" fill="url(#wg13_0)"/>
<rect x="813" y="330.8" width="1" height="74.8" fill="url(#wg13_0)"/>
<rect x="814" y="331.2" width="1" height="71.0" fill="url(#wg13_0)"/>
<rect x="815" y="328.2" width="1" height="72.6" fill="url(#wg13_0)"/>
<rect x="816" y="327.8" width="1" height="72.9" fill="url(#wg13_0)"/>
<rect x="817" y="327.7" width="1" height="73.7" fill="url(#wg13_0)"/>
<rect x="818" y="327.7" width="1" height="72.5" fill="url(#wg13_0)"/>
<rect x="819" y="327.8" width="1" height="72.4" fill="url(#wg13_1)"/>
<rect x="820" y="327.8" width="1" height="71.9" fill="url(#wg12_1)"/>
<rect x="821" y="327.8" width="1" height="71.3" fill="url(#wg12_1)"/>
<rect x="822" y="327.9" width="1" height="70.8" fill="url(#wg12_1)"/>
<rect x="823" y="327.9" width="1" height="70.3" fill="url(#wg12_0)"/>
<rect x="824" y="328.9" width="1" height="69.3" fill="url(#wg12_0)"/>
<rect x="825" y="334.1" width="1" height="64.2" fill="url(#wg12_0)"/>
<rect x="826" y="335.3" width="1" height="63.1" fill="url(#wg12_0)"/>
<rect x="827" y="337.0" width="1" height="61.2" fill="url(#wg12_0)"/>
<rect x="828" y="337.0" width="1" height="59.5" fill="url(#wg12_1)"/>
<rect x="829" y="336.1" width="1" height="60.1" fill="url(#wg12_1)"/>
<rect x="830" y="336.4" width="1" height="62.3" fill="url(#wg12_1)"/>
<rect x="831" y="336.6" width="1" height="59.2" fill="url(#wg12_1)"/>
<rect x="832" y="337.1" width="1" height="59.3" fill="url(#wg12_1)"/>
<rect x="833" y="337.2" width="1" height="57.9" fill="url(#wg12_1)"/>
<rect x="834" y="338.1" width="1" height="55.6" fill="url(#wg11_1)"/>
<rect x="835" y="339.1" width="1" height="52.8" fill="url(#wg11_1)"/>
<rect x="836" y="340.1" width="1" height="50.8" fill="url(#wg11_1)"/>
<rect x="837" y="341.1" width="1" height="51.3" fill="url(#wg11_1)"/>
<rect x="838" y="341.7" width="1" height="52.2" fill="url(#wg11_1)"/>
<rect x="839" y="340.9" width="1" height="54.6" fill="url(#wg11_1)"/>
<rect x="840" y="340.5" width="1" height="56.5" fill="url(#wg11_1)"/>
<rect x="841" y="340.1" width="1" height="56.6" fill="url(#wg11_1)"/>
<rect x="842" y="339.6" width="1" height="55.8" fill="url(#wg11_1)"/>
<rect x="843" y="339.2" width="1" height="55.1" fill="url(#wg11_2)"/>
<rect x="844" y="338.8" width="1" height="54.3" fill="url(#wg10_2)"/>
<rect x="845" y="338.8" width="1" height="51.9" fill="url(#wg10_1)"/>
<rect x="846" y="339.2" width="1" height="51.7" fill="url(#wg10_1)"/>
<rect x="847" y="339.6" width="1" height="52.0" fill="url(#wg10_1)"/>
<rect x="848" y="340.0" width="1" height="52.3" fill="url(#wg10_1)"/>
<rect x="849" y="340.4" width="1" height="52.6" fill="url(#wg10_1)"/>
<rect x="850" y="340.8" width="1" height="52.8" fill="url(#wg10_1)"/>
<rect x="851" y="341.2" width="1" height="51.9" fill="url(#wg10_1)"/>
<rect x="852" y="341.5" width="1" height="53.4" fill="url(#wg9_1)"/>
<rect x="853" y="341.6" width="1" height="54.0" fill="url(#wg9_1)"/>
<rect x="854" y="341.8" width="1" height="54.5" fill="url(#wg9_1)"/>
<rect x="855" y="341.9" width="1" height="54.0" fill="url(#wg9_1)"/>
<rect x="856" y="342.0" width="1" height="52.2" fill="url(#wg9_1)"/>
<rect x="857" y="342.1" width="1" height="47.6" fill="url(#wg8_0)"/>
<rect x="858" y="342.7" width="1" height="49.7" fill="url(#wg8_0)"/>
<rect x="859" y="345.1" width="1" height="43.8" fill="url(#wg8_0)"/>
<rect x="860" y="344.8" width="1" height="44.9" fill="url(#wg8_0)"/>
<rect x="861" y="347.4" width="1" height="42.4" fill="url(#wg8_0)"/>
<rect x="862" y="346.8" width="1" height="45.7" fill="url(#wg7_0)"/>
<rect x="863" y="348.7" width="1" height="45.2" fill="url(#wg7_1)"/>
<rect x="864" y="351.3" width="1" height="42.3" fill="url(#wg7_1)"/>
<rect x="865" y="354.8" width="1" height="38.6" fill="url(#wg7_0)"/>
<rect x="866" y="357.1" width="1" height="36.0" fill="url(#wg6_0)"/>
<rect x="867" y="357.9" width="1" height="35.0" fill="url(#wg6_1)"/>
<rect x="868" y="359.1" width="1" height="33.6" fill="url(#wg6_1)"/>
<rect x="869" y="358.0" width="1" height="34.6" fill="url(#wg6_1)"/>
<rect x="870" y="358.3" width="1" height="36.0" fill="url(#wg6_1)"/>
<rect x="871" y="358.5" width="1" height="37.5" fill="url(#wg6_1)"/>
<rect x="872" y="358.7" width="1" height="34.2" fill="url(#wg6_1)"/>
<rect x="873" y="359.0" width="1" height="40.5" fill="url(#wg6_1)"/>
<rect x="874" y="359.2" width="1" height="42.0" fill="url(#wg5_1)"/>
<rect x="875" y="359.5" width="1" height="43.1" fill="url(#wg5_1)"/>
<rect x="876" y="359.7" width="1" height="43.4" fill="url(#wg5_1)"/>
<rect x="877" y="359.9" width="1" height="43.7" fill="url(#wg5_1)"/>
<rect x="878" y="360.2" width="1" height="43.6" fill="url(#wg5_1)"/>
<rect x="879" y="360.2" width="1" height="42.1" fill="url(#wg5_1)"/>
<rect x="880" y="360.4" width="1" height="42.1" fill="url(#wg5_1)"/>
<rect x="881" y="360.6" width="1" height="44.4" fill="url(#wg5_0)"/>
<rect x="882" y="361.1" width="1" height="42.8" fill="url(#wg4_0)"/>
<rect x="883" y="362.8" width="1" height="47.3" fill="url(#wg4_1)"/>
<rect x="884" y="364.5" width="1" height="46.3" fill="url(#wg4_1)"/>
<rect x="885" y="366.2" width="1" height="46.7" fill="url(#wg4_1)"/>
<rect x="886" y="367.8" width="1" height="40.8" fill="url(#wg4_1)"/>
<rect x="887" y="371.2" width="1" height="35.8" fill="url(#wg3_1)"/>
<rect x="888" y="372.9" width="1" height="37.9" fill="url(#wg3_1)"/>
<rect x="889" y="384.8" width="1" height="22.3" fill="url(#wg2_0)"/>
<rect x="890" y="387.7" width="1" height="18.4" fill="url(#wg2_0)"/>
<rect x="891" y="386.9" width="1" height="19.2" fill="url(#wg2_1)"/>
<rect x="892" y="385.6" width="1" height="22.4" fill="url(#wg1_1)"/>
<rect x="893" y="386.0" width="1" height="18.9" fill="url(#wg1_1)"/>
<rect x="894" y="386.8" width="1" height="14.8" fill="url(#wg1_1)"/>
<rect x="895" y="386.6" width="1" height="19.6" fill="url(#wg1_0)"/>
<rect x="896" y="388.1" width="1" height="17.5" fill="url(#wg1_0)"/>
<rect x="897" y="388.7" width="1" height="15.0" fill="url(#wg1_0)"/>
<rect x="898" y="389.2" width="1" height="13.6" fill="url(#wg1_2)"/>
<rect x="899" y="390.0" width="1" height="10.3" fill="url(#wg1_2)"/>
<rect x="900" y="389.3" width="1" height="13.2" fill="url(#wg1_2)"/>
<rect x="901" y="388.6" width="1" height="12.4" fill="url(#wg1_2)"/>
<rect x="902" y="388.4" width="1" height="15.1" fill="url(#wg1_2)"/>
<rect x="903" y="390.3" width="1" height="13.1" fill="url(#wg1_0)"/>
<rect x="904" y="389.4" width="1" height="13.9" fill="url(#wg1_0)"/>
<rect x="905" y="390.4" width="1" height="12.8" fill="url(#wg1_0)"/>
<rect x="906" y="391.8" width="1" height="11.3" fill="url(#wg1_0)"/>
<rect x="907" y="393.5" width="1" height="9.0" fill="url(#wg1_0)"/>
<rect x="908" y="396.1" width="1" height="5.7" fill="url(#wg1_0)"/>
</g>
<clipPath id="wfc"><path d="M547.7,419.5 L550,414 L553.3,409.5 L558.8,406.2 L564.3,405.1 L567,402.9 L567.7,374.1 L573.2,365.3 L575.4,356.4 L578.7,352 L584.3,347.5 L595.3,340.9 L600.9,335.4 L613,329.8 L624.1,324.3 L633,318.8 L640,314.3 L649.8,309.7 L659.7,306 L670.8,301.1 L677,298.6 L683.2,302.3 L691.8,301.1 L696.7,309.7 L704.2,312.2 L714.1,313.4 L716.5,318.4 L723.9,320.8 L731.4,315.9 L740,317.1 L749.5,314.5 L756.7,314.5 L760.3,321.7 L771.1,321.7 L783.2,322.9 L788,331.3 L800,330.1 L809.7,330.1 L816.9,327.7 L824.3,327.9 L825.7,335.1 L833.6,337.2 L837.9,341.5 L845.1,338.6 L852.3,341.5 L858,342.2 L863.7,348 L866.6,357.3 L875.2,359.4 L882.3,360.8 L886.6,368 L888.8,373.7 L889.5,384.5 L895.2,386.6 L902.4,387.3 L906.7,391.6 L908.8,396.7 L909.5,401 L909.5,401 L906.7,403.1 L899.5,403.8 L892.4,408.1 L885.2,414.6 L880.9,405.3 L875.2,402.4 L869.4,392.4 L863.7,393.8 L855.1,396.7 L846.5,390.9 L840.8,397.4 L836.5,390.9 L830.8,398.8 L823.6,398.1 L817.9,401 L815,403.8 L812.1,407.2 L807.3,410.8 L797.6,415.6 L794,427.7 L790.4,449.4 L783.2,463.8 L773.5,471 L763.9,478.3 L753.1,463.8 L749.5,449.4 L742.2,454.2 L736.3,458 L728.9,453.1 L719,453.1 L714.1,438.3 L709.1,443.2 L699.2,443.2 L689.3,448.2 L679.4,448.2 L675.7,440.7 L672,430.9 L667.1,435.8 L659.7,438.3 L651,443.2 L648.5,433.3 L646.1,421 L641.1,425.9 L637.4,432 L633,437 L630,443 L627.4,445 L624.1,453.8 L621.9,449.4 L616.4,440.5 L613,428.3 L606.4,429.4 L593.1,429.4 L584.3,426.1 L573.2,431.7 L564.3,427.2 L557.7,431.7 L551,428.3 L547.7,422.8Z"/></clipPath>
<filter id="bl" x="-5%" y="-5%" width="110%" height="110%"><feGaussianBlur stdDeviation="1.6"/></filter>
<g clip-path="url(#wfc)"><g filter="url(#bl)">
<path d="M669,319.1 L672,320.5 L675,319.9 L678,321.7 L681,322.4 L684,323.0 L687,322.7 L690,323.6 L693,324.2M744,333.0 L747,334.3 L750,335.1 L753,335.4 L756,336.1M780,340.1 L783,340.5M795,344.0 L798,344.3 L801,344.0 L804,345.7 L807,345.9 L810,347.0 L813,347.2 L816,347.8 L819,347.7 L822,349.0 L825,349.8 L828,350.3 L831,350.2 L834,351.2 L837,351.4 L840,351.3 L843,351.8 L846,352.4 L849,353.2 L852,353.7 L855,354.8 L858,355.7 L861,356.0 L864,356.4" fill="none" stroke="#f6ecd2" stroke-opacity="0.5" stroke-width="5"/>
<path d="M645,327.4 L648,328.5 L651,328.4 L654,328.9 L657,330.1 L660,330.6 L663,331.7 L666,331.2 L669,332.3 L672,332.9 L675,332.9 L678,334.9 L681,334.3 L684,334.7 L687,335.9 L690,335.9 L693,337.2 L696,337.4 L699,337.6 L702,338.0 L705,339.7 L708,339.5 L711,340.9 L714,341.0 L717,342.3 L720,341.9 L723,342.3 L726,342.9 L729,344.4 L732,344.7 L735,344.8 L738,344.9 L741,346.5 L744,347.5 L747,347.4 L750,347.1 L753,347.7 L756,348.4 L759,349.1 L762,349.4 L765,350.0 L768,351.5 L771,352.5 L774,352.0 L777,353.8 L780,353.5 L783,354.6 L786,355.4 L789,356.0 L792,355.1 L795,356.1 L798,357.2 L801,358.3 L804,357.5 L807,358.4 L810,359.8 L813,359.2 L816,360.2 L819,360.7 L822,361.8 L825,362.8 L828,362.2 L831,363.6 L834,364.2 L837,364.9 L840,365.1 L843,366.2 L846,365.9 L849,366.5 L852,366.8 L855,368.3 L858,368.4 L861,368.6 L864,369.0 L867,370.5 L870,370.8 L873,371.6 L876,371.6 L879,372.4 L882,372.4 L885,373.9" fill="none" stroke="#f6ecd2" stroke-opacity="0.5" stroke-width="5"/>
<path d="M627,337.9 L630,337.8 L633,338.4 L636,338.5 L639,339.6 L642,341.1 L645,340.3 L648,341.6 L651,341.4 L654,342.0 L657,343.4 L660,343.4 L663,343.6 L666,344.4 L669,345.7 L672,346.2 L675,345.8 L678,346.8 L681,348.5 L684,347.9 L687,349.0 L690,349.3 L693,350.5 L696,350.8 L699,351.6 L702,351.8 L705,351.8 L708,352.4 L711,352.8 L714,354.6 L717,354.0 L720,354.4 L723,356.5 L726,355.8 L729,357.5 L732,356.8 L735,358.0 L738,358.1 L741,359.7 L744,359.9 L747,360.5 L750,361.3 L753,362.0 L756,361.8 L759,362.7 L762,363.1 L765,363.1 L768,364.8 L771,365.0 L774,365.9 L777,365.5 L780,366.6 L783,367.1 L786,368.1 L789,367.6 L792,368.6 L795,369.4 L798,369.3 L801,370.6 L804,371.5 L807,371.6 L810,372.5M885,387.2 L888,386.8" fill="none" stroke="#f6ecd2" stroke-opacity="0.5" stroke-width="5"/>
<path d="M615,347.5 L618,349.2 L621,349.0 L624,349.8 L627,350.3 L630,351.5 L633,352.0 L636,351.9 L639,352.1 L642,353.0 L645,353.8 L648,353.8 L651,354.5 L654,356.1 L657,356.5 L660,357.5 L663,358.1 L666,358.5 L669,358.3 L672,358.5 L675,359.3 L678,360.1 L681,360.8 L684,361.4 L687,361.7 L690,363.0 L693,362.7 L696,363.6 L699,364.8 L702,365.2 L705,365.0 L708,365.5 L711,367.0 L714,366.2 L717,367.0 L720,368.2 L723,368.8 L726,368.8 L729,369.2 L732,370.0 L735,371.5 L738,371.5 L741,372.9 L744,373.2 L747,374.1 L750,373.1 L753,373.9 L756,374.2 L759,375.5 L762,375.9 L765,376.0 L768,377.4 L771,377.2 L774,378.1 L777,378.6 L780,380.1 L783,380.0 L786,380.3 L789,380.6 L792,381.7" fill="none" stroke="#f6ecd2" stroke-opacity="0.5" stroke-width="5"/>
<path d="M615,361.8 L618,362.3 L621,363.1 L624,363.1 L627,362.7 L630,364.2 L633,364.7 L636,365.2 L639,365.4 L642,366.7 L645,367.6 L648,366.9 L651,368.3 L654,368.4 L657,369.2 L660,370.4 L663,371.1 L666,371.1 L669,371.0M675,372.1 L678,373.0 L681,374.3 L684,374.0 L687,374.5 L690,376.2 L693,376.8 L696,376.3 L699,377.0 L702,377.4 L705,377.7 L708,378.5 L711,380.2 L714,379.4 L717,380.2 L720,380.7 L723,381.1 L726,382.4 L729,383.3 L732,384.0 L735,384.2 L738,385.1 L741,384.4 L744,385.4 L747,387.0 L750,386.2 L753,387.1 L756,388.0 L759,388.2 L762,389.2 L765,389.0 L768,389.9 L771,391.6 L774,390.9 L777,392.6 L780,392.1 L783,393.9 L786,394.0 L789,394.5" fill="none" stroke="#f6ecd2" stroke-opacity="0.5" stroke-width="5"/>
<path d="M615,374.8 L618,374.3 L621,375.5 L624,376.6 L627,377.1 L630,376.6 L633,378.4 L636,378.8M651,381.8 L654,381.5M759,401.5 L762,402.1 L765,402.8 L768,403.9 L771,404.6" fill="none" stroke="#f6ecd2" stroke-opacity="0.5" stroke-width="5"/>
<path d="M615,387.0 L618,387.8 L621,389.0 L624,388.6 L627,389.0" fill="none" stroke="#f6ecd2" stroke-opacity="0.5" stroke-width="5"/>
<path d="M673,313.7 L676,313.3 L679,315.1M688,316.6 L691,316.2M808,338.1 L811,338.8 L814,339.6 L817,340.5 L820,340.6 L823,342.5 L826,342.4 L829,343.3 L832,344.1M844,345.4 L847,345.7 L850,347.4 L853,348.1 L856,348.5" fill="none" stroke="#d4eaf4" stroke-opacity="0.4" stroke-width="3.5"/>
<path d="M652,322.4 L655,323.5 L658,323.4 L661,324.4 L664,324.8 L667,324.6 L670,325.7 L673,326.4 L676,326.8 L679,327.6 L682,328.6 L685,329.0 L688,329.6 L691,329.1 L694,330.6 L697,331.0 L700,332.1 L703,331.1 L706,332.0 L709,333.8 L712,333.4 L715,334.5 L718,334.9 L721,335.2 L724,335.8 L727,336.6 L730,337.8 L733,337.7 L736,338.7 L739,338.5 L742,339.7 L745,340.1 L748,340.9 L751,341.7 L754,341.0 L757,342.9 L760,342.9 L763,343.0 L766,343.9 L769,343.8 L772,344.6 L775,346.2 L778,346.5 L781,347.3 L784,346.8 L787,347.3 L790,348.3 L793,349.0 L796,349.9 L799,349.9 L802,351.1 L805,351.5 L808,351.6 L811,352.9 L814,352.3 L817,353.7 L820,353.7 L823,354.0 L826,355.3 L829,355.9 L832,356.6 L835,356.8 L838,358.3 L841,358.6 L844,358.2 L847,358.5 L850,360.6 L853,360.3 L856,360.4 L859,361.1 L862,362.5 L865,362.2 L868,363.1 L871,364.1 L874,364.2 L877,365.2 L880,366.3" fill="none" stroke="#d4eaf4" stroke-opacity="0.4" stroke-width="3.5"/>
<path d="M634,332.5 L637,332.1 L640,332.9 L643,334.1 L646,333.7 L649,334.2 L652,335.8 L655,335.5 L658,337.0 L661,337.5 L664,337.3 L667,337.8 L670,338.0 L673,339.8 L676,339.7 L679,340.1 L682,340.4 L685,341.1 L688,342.7 L691,342.1 L694,343.3 L697,344.0 L700,344.4 L703,344.9 L706,345.3 L709,345.6 L712,347.2 L715,347.9 L718,347.9 L721,348.0 L724,349.6 L727,349.0 L730,349.5 L733,350.8 L736,351.7 L739,351.9 L742,351.7 L745,353.7 L748,352.9 L751,353.8 L754,355.4 L757,355.7 L760,356.2 L763,355.7 L766,357.5 L769,357.3 L772,357.3 L775,359.1 L778,359.9 L781,359.0 L784,360.3 L787,361.5 L790,361.2 L793,361.7 L796,363.1 L799,363.1 L802,364.5 L805,364.9 L808,365.5 L811,365.8 L814,365.5M871,376.5 L874,378.1 L877,377.5 L880,378.5 L883,378.5 L886,379.1 L889,380.3" fill="none" stroke="#d4eaf4" stroke-opacity="0.4" stroke-width="3.5"/>
<path d="M613,340.8 L616,341.0 L619,342.2 L622,342.9 L625,342.4 L628,343.3 L631,344.1 L634,344.8 L637,345.0 L640,346.2 L643,346.1 L646,347.8 L649,347.4 L652,347.8 L655,348.1 L658,348.8 L661,349.5 L664,351.1 L667,351.0 L670,351.6 L673,353.0 L676,353.6 L679,353.8 L682,353.5 L685,354.2 L688,355.1 L691,355.3 L694,356.0 L697,356.3 L700,357.0 L703,358.3 L706,358.7 L709,359.0 L712,359.6 L715,360.4 L718,361.1 L721,360.6 L724,362.5 L727,362.4 L730,362.8 L733,364.4 L736,364.6 L739,364.5 L742,364.6 L745,365.8 L748,366.4 L751,366.9 L754,367.0 L757,368.3 L760,368.4 L763,369.8 L766,370.0 L769,370.1 L772,371.6 L775,371.5 L778,371.5 L781,372.4 L784,372.6 L787,373.8 L790,375.1 L793,375.7" fill="none" stroke="#d4eaf4" stroke-opacity="0.4" stroke-width="3.5"/>
<path d="M595,350.6 L598,350.8 L601,352.1 L604,352.7 L607,353.0 L610,353.3 L613,354.2 L616,353.9 L619,355.5 L622,355.0 L625,356.8 L628,356.9 L631,356.9 L634,357.3 L637,358.6 L640,358.9 L643,359.9 L646,359.5 L649,361.3 L652,361.1 L655,361.7 L658,362.8 L661,363.1 L664,363.4 L667,363.8 L670,364.6 L673,364.5 L676,365.4 L679,366.9 L682,366.3 L685,366.9 L688,368.6 L691,368.5 L694,369.3 L697,369.9 L700,370.7 L703,370.6 L706,371.9 L709,371.3 L712,373.2 L715,372.9 L718,374.0 L721,374.0 L724,375.3 L727,375.3 L730,376.2 L733,376.4 L736,377.7 L739,378.2 L742,377.9 L745,379.3 L748,380.2 L751,379.6 L754,380.1 L757,381.9 L760,382.5 L763,381.7 L766,383.4 L769,384.2 L772,383.7 L775,385.1 L778,384.9 L781,386.2 L784,386.3 L787,386.9 L790,386.9" fill="none" stroke="#d4eaf4" stroke-opacity="0.4" stroke-width="3.5"/>
<path d="M580,360.0 L583,360.9 L586,361.8 L589,362.1 L592,363.0 L595,364.0 L598,364.2 L601,365.0 L604,364.8 L607,366.3 L610,367.0 L613,366.9 L616,366.6 L619,367.3 L622,369.0 L625,369.7 L628,370.0 L631,370.3 L634,370.9 L637,370.8M760,395.0 L763,395.0 L766,395.2 L769,396.6" fill="none" stroke="#d4eaf4" stroke-opacity="0.4" stroke-width="3.5"/>
<path d="M574,372.2 L577,373.0 L580,374.2 L583,374.4 L586,375.2 L589,375.2 L592,375.9 L595,375.7 L598,376.5 L601,377.0 L604,378.2 L607,378.7 L610,378.6M616,379.8 L619,380.8 L622,380.8 L625,382.1 L628,382.1" fill="none" stroke="#d4eaf4" stroke-opacity="0.4" stroke-width="3.5"/>
<path d="M568,384.4 L571,385.2 L574,385.7 L577,385.6 L580,386.8 L583,387.5" fill="none" stroke="#d4eaf4" stroke-opacity="0.4" stroke-width="3.5"/>
<path d="M568,397.2 L571,397.9" fill="none" stroke="#d4eaf4" stroke-opacity="0.4" stroke-width="3.5"/>
<path d="M844,369.5 L847,370.3 L850,371.0 L853,371.3 L856,372.1 L859,372.7 L862,373.2" fill="none" stroke="#6a9ad2" stroke-opacity="0.25" stroke-width="2.5"/>
<path d="M811,373.1 L814,373.9 L817,373.5 L820,375.1 L823,375.8 L826,375.0 L829,376.5 L832,376.5 L835,377.1 L838,378.3 L841,379.4 L844,379.2 L847,380.1 L850,381.0 L853,381.8 L856,381.8 L859,382.5 L862,382.9 L865,384.1 L868,385.8 L871,385.2 L874,386.7 L877,387.2 L880,388.2 L883,388.8" fill="none" stroke="#6a9ad2" stroke-opacity="0.25" stroke-width="2.5"/>
<path d="M799,380.3 L802,380.3 L805,381.7 L808,382.0 L811,382.3 L814,382.6 L817,383.2 L820,384.0 L823,384.8 L826,385.5 L829,386.6 L832,387.8 L835,387.9 L838,388.7 L841,388.3 L844,390.1M850,391.5 L853,391.5 L856,392.6 L859,393.1M874,396.4 L877,397.0 L880,398.0 L883,398.4 L886,399.7 L889,400.3" fill="none" stroke="#6a9ad2" stroke-opacity="0.25" stroke-width="2.5"/>
<path d="M793,387.9 L796,389.2 L799,389.9 L802,391.0 L805,391.9 L808,392.4 L811,392.8 L814,393.0 L817,394.5 L820,394.0 L823,394.8 L826,395.9 L829,396.2" fill="none" stroke="#6a9ad2" stroke-opacity="0.25" stroke-width="2.5"/>
<path d="M790,398.2 L793,398.4 L796,399.5 L799,399.4 L802,400.2 L805,400.8 L808,401.4 L811,401.7 L814,402.7" fill="none" stroke="#6a9ad2" stroke-opacity="0.25" stroke-width="2.5"/>
<path d="M643,375.7 L646,375.7M661,379.5 L664,380.4 L667,380.3 L670,381.8 L673,381.7 L676,382.9 L679,384.2 L682,384.3 L685,384.2 L688,385.0 L691,385.9 L694,387.3 L697,387.9 L700,387.9 L703,388.9 L706,389.1 L709,390.0 L712,390.4 L715,392.1 L718,391.8M724,393.5 L727,393.6 L730,394.0 L733,395.2 L736,396.5 L739,396.4 L742,397.0 L745,397.6 L748,398.8 L751,398.9 L754,400.0 L757,400.6M775,403.9 L778,405.2 L781,405.8 L784,406.8 L787,406.4 L790,407.3 L793,408.4 L796,409.8 L799,409.8" fill="none" stroke="#6a9ad2" stroke-opacity="0.25" stroke-width="2.5"/>
<path d="M634,383.8 L637,384.8 L640,385.6 L643,386.0 L646,385.7 L649,387.3 L652,386.9 L655,388.7 L658,389.5 L661,388.9 L664,389.4 L667,391.3 L670,391.2 L673,392.4 L676,393.3 L679,394.1 L682,394.1 L685,395.3 L688,396.1 L691,396.5 L694,396.5 L697,398.1 L700,397.9 L703,399.4 L706,399.2 L709,400.0 L712,400.0 L715,400.7 L718,402.7 L721,402.6 L724,403.7 L727,404.0 L730,405.0 L733,405.4 L736,405.4 L739,406.3 L742,407.5 L745,407.4 L748,409.3 L751,408.6 L754,410.0 L757,411.2 L760,411.6 L763,411.4 L766,411.9 L769,413.6 L772,413.8 L775,413.9 L778,414.6 L781,416.1 L784,415.8 L787,416.9 L790,418.6 L793,418.1" fill="none" stroke="#6a9ad2" stroke-opacity="0.25" stroke-width="2.5"/>
<path d="M604,386.5 L607,387.7 L610,387.7 L613,388.2 L616,389.2M628,392.9 L631,392.5 L634,393.5 L637,394.5 L640,394.6 L643,395.2 L646,396.0 L649,397.4 L652,397.3 L655,398.6 L658,398.3 L661,399.2 L664,399.8 L667,400.4 L670,400.9 L673,402.0 L676,403.3 L679,403.7 L682,404.9 L685,404.5 L688,405.1 L691,405.7 L694,406.7 L697,406.8 L700,408.5 L703,408.6 L706,408.6 L709,410.0 L712,410.6 L715,410.9 L718,411.7 L721,413.0 L724,414.1 L727,414.2 L730,414.3 L733,414.6 L736,415.7 L739,416.2 L742,417.2 L745,417.9 L748,418.3 L751,418.7 L754,420.6 L757,421.3 L760,421.6 L763,422.6 L766,422.7 L769,423.6 L772,423.8 L775,424.8 L778,425.8 L781,426.2 L784,427.0 L787,427.4 L790,427.6 L793,429.0" fill="none" stroke="#6a9ad2" stroke-opacity="0.25" stroke-width="2.5"/>
<path d="M583,391.9 L586,393.6 L589,394.4 L592,394.0 L595,395.7 L598,395.0 L601,396.7 L604,397.1 L607,397.2 L610,398.1 L613,398.6 L616,399.9 L619,400.1 L622,400.8 L625,401.8 L628,402.0 L631,402.2 L634,403.5 L637,404.8 L640,404.4 L643,405.2 L646,406.8 L649,406.3 L652,408.2 L655,407.8 L658,408.4 L661,409.8 L664,410.8 L667,410.7 L670,411.1 L673,411.5 L676,412.0 L679,413.8 L682,414.5 L685,414.5 L688,415.4 L691,416.5 L694,417.1 L697,417.7 L700,418.7 L703,418.3 L706,420.1 L709,420.2 L712,420.4 L715,421.7 L718,421.7 L721,422.5 L724,423.9 L727,424.5 L730,424.8 L733,425.8 L736,426.6 L739,426.5 L742,426.6 L745,428.7 L748,427.9 L751,429.2 L754,429.3 L757,430.7 L760,431.7 L763,431.2 L766,432.6 L769,433.1 L772,434.2 L775,435.2 L778,435.5 L781,435.2 L784,436.3 L787,437.1 L790,437.3" fill="none" stroke="#6a9ad2" stroke-opacity="0.25" stroke-width="2.5"/>
<path d="M574,400.8 L577,400.6 L580,401.8 L583,402.1 L586,402.9 L589,404.4 L592,404.2 L595,405.1 L598,404.9 L601,405.6 L604,406.9 L607,407.5 L610,409.0 L613,409.0 L616,410.2 L619,410.4 L622,411.6 L625,411.3 L628,411.5 L631,413.3 L634,413.8 L637,413.7 L640,414.4 L643,415.5 L646,416.8 L649,417.1 L652,417.4 L655,418.3 L658,418.6 L661,419.3 L664,419.6 L667,421.1 L670,420.7 L673,422.2 L676,422.1 L679,422.9 L682,424.5 L685,425.3 L688,425.4 L691,426.8 L694,427.1 L697,427.5 L700,428.2 L703,427.9 L706,428.7 L709,430.4 L712,430.5 L715,432.1 L718,431.6 L721,432.3 L724,432.9 L727,434.7 L730,434.7 L733,434.9 L736,435.3 L739,436.8 L742,436.5 L745,438.5 L748,438.1 L751,439.7 L754,440.5 L757,440.3 L760,441.4 L763,442.2 L766,442.5 L769,443.1 L772,444.5 L775,444.2 L778,445.3 L781,445.1 L784,446.7 L787,448.0" fill="none" stroke="#6a9ad2" stroke-opacity="0.25" stroke-width="2.5"/>
<path d="M568,409.7 L571,410.2 L574,411.1 L577,410.7 L580,411.5 L583,412.0 L586,412.9 L589,413.7 L592,414.9 L595,414.7 L598,415.7 L601,415.9 L604,416.9 L607,416.9 L610,418.3 L613,419.1 L616,419.7 L619,420.8 L622,420.9 L625,421.2 L628,422.9 L631,422.7 L634,423.1 L637,424.2M649,426.2 L652,427.6 L655,428.0 L658,429.3 L661,428.9 L664,430.3 L667,430.2M676,433.0 L679,433.8 L682,434.0 L685,435.3 L688,435.9 L691,436.7 L694,437.0 L697,437.3 L700,437.9 L703,439.2 L706,439.1M718,442.3 L721,443.2 L724,442.6 L727,444.4 L730,444.8 L733,445.0 L736,445.6 L739,446.9 L742,448.0M751,449.4 L754,449.7 L757,450.2 L760,450.5 L763,452.0 L766,452.2 L769,453.0 L772,453.9 L775,455.2 L778,454.9 L781,456.0 L784,456.8" fill="none" stroke="#6a9ad2" stroke-opacity="0.25" stroke-width="2.5"/>
<path d="M568,418.9 L571,420.3 L574,419.6 L577,420.7 L580,422.2 L583,422.2 L586,423.6 L589,424.0 L592,423.9 L595,424.9 L598,425.4 L601,426.5M616,429.1 L619,430.5 L622,431.4 L625,431.5 L628,431.5 L631,433.0M754,459.3 L757,459.8 L760,461.2 L763,462.2 L766,463.2 L769,463.1 L772,464.1 L775,465.0" fill="none" stroke="#6a9ad2" stroke-opacity="0.25" stroke-width="2.5"/>
<path d="M619,441.0 L622,441.1 L625,441.2" fill="none" stroke="#6a9ad2" stroke-opacity="0.25" stroke-width="2.5"/>
</g></g>
<path d="M676.2,319L811.5,246.4V411.2L676.2,483.2Z" fill="none" stroke="#ff0000" stroke-width="1"/>
<text x="539.0" y="604.5" fill="#eeeeb0" font-size="17" font-family="'Liberation Sans', sans-serif" text-anchor="middle" textLength="112" lengthAdjust="spacingAndGlyphs" >Max Rx Power</text>
<g fill="none" stroke-width="1">
<path d="M268.5,627V713M449.5,627V713M629.5,627V713M810.5,627V713M89,659.5H990" stroke="#d8d8d0" stroke-dasharray="2,2"/>
<path d="M268.5,627v7M449.5,627v7M629.5,627v7M810.5,627v7M268.5,713v-8M449.5,713v-8M629.5,713v-8M810.5,713v-8M89,659.5h8M990,659.5h-8" stroke="#eeeeb0"/>
<rect x="88.5" y="626.5" width="902" height="87" stroke="#eeeeb0"/>
</g>
<text x="88.5" y="734.0" fill="#eeeeb0" font-size="17" font-family="'Liberation Sans', sans-serif" text-anchor="middle" textLength="72" lengthAdjust="spacingAndGlyphs" >19:26:00</text>
<text x="268.9" y="734.0" fill="#eeeeb0" font-size="17" font-family="'Liberation Sans', sans-serif" text-anchor="middle" textLength="72" lengthAdjust="spacingAndGlyphs" >19:26:20</text>
<text x="449.2" y="734.0" fill="#eeeeb0" font-size="17" font-family="'Liberation Sans', sans-serif" text-anchor="middle" textLength="72" lengthAdjust="spacingAndGlyphs" >19:26:40</text>
<text x="629.5" y="734.0" fill="#eeeeb0" font-size="17" font-family="'Liberation Sans', sans-serif" text-anchor="middle" textLength="72" lengthAdjust="spacingAndGlyphs" >19:27:00</text>
<text x="809.9" y="734.0" fill="#eeeeb0" font-size="17" font-family="'Liberation Sans', sans-serif" text-anchor="middle" textLength="72" lengthAdjust="spacingAndGlyphs" >19:27:20</text>
<text x="990.2" y="734.0" fill="#eeeeb0" font-size="17" font-family="'Liberation Sans', sans-serif" text-anchor="middle" textLength="72" lengthAdjust="spacingAndGlyphs" >19:27:40</text>
<text x="77.5" y="663.3" fill="#eeeeb0" font-size="17" font-family="'Liberation Sans', sans-serif" text-anchor="end" textLength="36.5" lengthAdjust="spacingAndGlyphs" >-100</text>
<text x="77.5" y="717.0" fill="#eeeeb0" font-size="17" font-family="'Liberation Sans', sans-serif" text-anchor="end" textLength="36.5" lengthAdjust="spacingAndGlyphs" >-120</text>
<text x="539.0" y="759.0" fill="#eeeeb0" font-size="17" font-family="'Liberation Sans', sans-serif" text-anchor="middle" textLength="88" lengthAdjust="spacingAndGlyphs" >Time (UTC)</text>
<text x="0.0" y="0.0" fill="#eeeeb0" font-size="17" font-family="'Liberation Sans', sans-serif" text-anchor="middle" textLength="103" lengthAdjust="spacingAndGlyphs" transform="translate(19.3,669) rotate(-90)">Power (dBm)</text>
<path d="M593.5,627V713" stroke="#ff0000" stroke-width="1"/>
<g fill="none" stroke="#f0e400" stroke-width="1.15" stroke-linejoin="miter">
<path d="M169.5,685.4 L170.5,685.4"/>
<path d="M196.4,682.7 L205.7,669.6 L214,667.1 L222.5,713"/>
<path d="M241.3,655.4 L250.6,671.3 L259.1,667.1 L268.4,696.9 L277.7,681.5 L295.8,681.5 L314.3,670.3 L323.8,671.8 L331.9,674.2 L350.2,676.2 L359.5,678.6 L368.5,678.6 L377.8,682.7"/>
<path d="M422.5,685.4 L431.7,672 L440.3,668.3 L449.3,713 L458.6,674.4 L467.1,675.7 L485.4,687.4 L494.5,655.4 L503.5,678.6 L512.8,673 L521.6,668.8 L530.6,666.4 L539.6,669.6 L548.4,659.1 L557.5,662.7 L575.8,696.9"/>
<path d="M594.1,655.4 L602.6,670.5 L611.2,674.2 L621,687.9"/>
<path d="M655.9,681 L674.2,688.4 L692.5,667.6 L701,713 L703.5,713 L710.8,696.2"/>
<path d="M728.4,685.4 L737.7,678.1 L746.2,678.1 L755.5,683.5"/>
<path d="M783.3,676.6 L792.6,670.3 L801.1,670.3 L810.9,676.6 L819.4,679.8 L828.5,681.5"/>
</g>
</svg></body></html>
